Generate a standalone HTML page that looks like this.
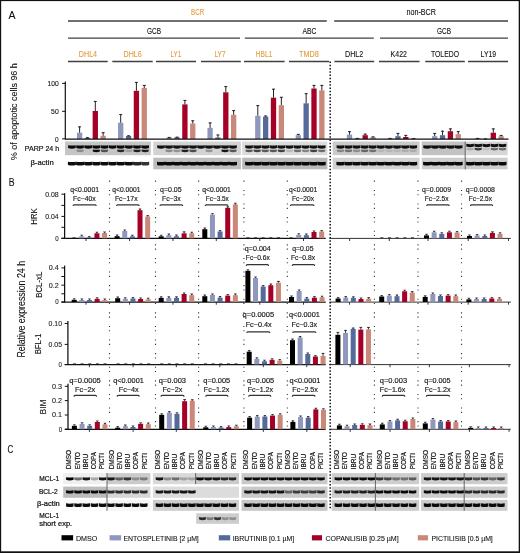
<!DOCTYPE html>
<html><head><meta charset="utf-8"><style>
html,body{margin:0;padding:0;background:#fff;overflow:hidden}
svg{display:block;will-change:transform}
text{font-family:"Liberation Sans",sans-serif}
</style></head><body>
<svg width="520" height="553" viewBox="0 0 520 553">
<defs><filter id="bl" x="-20%" y="-60%" width="140%" height="220%"><feGaussianBlur stdDeviation="0.55"/></filter></defs>
<rect x="0.00" y="0.00" width="520.00" height="553.00" fill="#fff"/>
<text x="8.40" y="18.60" font-size="10.8" text-anchor="start" fill="#111" stroke="#111" stroke-width="0.1" textLength="7.00" lengthAdjust="spacingAndGlyphs">A</text>
<text x="8.80" y="186.30" font-size="10.5" text-anchor="start" fill="#111" stroke="#111" stroke-width="0.1" textLength="5.80" lengthAdjust="spacingAndGlyphs">B</text>
<text x="7.40" y="453.00" font-size="10.5" text-anchor="start" fill="#111" stroke="#111" stroke-width="0.1" textLength="5.80" lengthAdjust="spacingAndGlyphs">C</text>
<text x="197.60" y="15.10" font-size="8.2" text-anchor="middle" fill="#E59C3C" stroke="#E59C3C" stroke-width="0.1" textLength="13.20" lengthAdjust="spacingAndGlyphs">BCR</text>
<text x="421.20" y="15.10" font-size="8.2" text-anchor="middle" fill="#111" stroke="#111" stroke-width="0.1" textLength="29.50" lengthAdjust="spacingAndGlyphs">non-BCR</text>
<line x1="68.00" y1="21.00" x2="326.80" y2="21.00" stroke="#404040" stroke-width="1.3"/>
<line x1="334.20" y1="21.00" x2="508.00" y2="21.00" stroke="#404040" stroke-width="1.3"/>
<text x="154.00" y="34.00" font-size="8.2" text-anchor="middle" fill="#111" stroke="#111" stroke-width="0.1" textLength="14.00" lengthAdjust="spacingAndGlyphs">GCB</text>
<text x="309.50" y="34.00" font-size="8.2" text-anchor="middle" fill="#111" stroke="#111" stroke-width="0.1" textLength="14.00" lengthAdjust="spacingAndGlyphs">ABC</text>
<text x="444.00" y="34.00" font-size="8.2" text-anchor="middle" fill="#111" stroke="#111" stroke-width="0.1" textLength="14.00" lengthAdjust="spacingAndGlyphs">GCB</text>
<line x1="68.00" y1="38.20" x2="240.00" y2="38.20" stroke="#404040" stroke-width="1.3"/>
<line x1="244.80" y1="38.20" x2="373.80" y2="38.20" stroke="#404040" stroke-width="1.3"/>
<line x1="380.00" y1="38.20" x2="508.00" y2="38.20" stroke="#404040" stroke-width="1.3"/>
<text x="78.80" y="57.30" font-size="8.2" text-anchor="start" fill="#E59C3C" stroke="#E59C3C" stroke-width="0.1" textLength="18.30" lengthAdjust="spacingAndGlyphs">DHL4</text>
<line x1="68.00" y1="61.50" x2="107.70" y2="61.50" stroke="#404040" stroke-width="1.3"/>
<text x="123.50" y="57.30" font-size="8.2" text-anchor="start" fill="#E59C3C" stroke="#E59C3C" stroke-width="0.1" textLength="18.20" lengthAdjust="spacingAndGlyphs">DHL6</text>
<line x1="112.30" y1="61.50" x2="152.70" y2="61.50" stroke="#404040" stroke-width="1.3"/>
<text x="170.60" y="57.30" font-size="8.2" text-anchor="start" fill="#E59C3C" stroke="#E59C3C" stroke-width="0.1" textLength="10.70" lengthAdjust="spacingAndGlyphs">LY1</text>
<line x1="156.00" y1="61.50" x2="196.00" y2="61.50" stroke="#404040" stroke-width="1.3"/>
<text x="214.40" y="57.30" font-size="8.2" text-anchor="start" fill="#E59C3C" stroke="#E59C3C" stroke-width="0.1" textLength="11.20" lengthAdjust="spacingAndGlyphs">LY7</text>
<line x1="201.00" y1="61.50" x2="240.80" y2="61.50" stroke="#404040" stroke-width="1.3"/>
<text x="255.80" y="57.30" font-size="8.2" text-anchor="start" fill="#E59C3C" stroke="#E59C3C" stroke-width="0.1" textLength="16.50" lengthAdjust="spacingAndGlyphs">HBL1</text>
<line x1="244.00" y1="61.50" x2="284.60" y2="61.50" stroke="#404040" stroke-width="1.3"/>
<text x="299.00" y="57.30" font-size="8.2" text-anchor="start" fill="#E59C3C" stroke="#E59C3C" stroke-width="0.1" textLength="19.80" lengthAdjust="spacingAndGlyphs">TMD8</text>
<line x1="289.00" y1="61.50" x2="329.00" y2="61.50" stroke="#404040" stroke-width="1.3"/>
<text x="345.00" y="57.30" font-size="8.2" text-anchor="start" fill="#111" stroke="#111" stroke-width="0.1" textLength="18.30" lengthAdjust="spacingAndGlyphs">DHL2</text>
<line x1="334.40" y1="61.50" x2="374.20" y2="61.50" stroke="#404040" stroke-width="1.3"/>
<text x="390.60" y="57.30" font-size="8.2" text-anchor="start" fill="#111" stroke="#111" stroke-width="0.1" textLength="16.40" lengthAdjust="spacingAndGlyphs">K422</text>
<line x1="379.00" y1="61.50" x2="419.50" y2="61.50" stroke="#404040" stroke-width="1.3"/>
<text x="431.00" y="57.30" font-size="8.2" text-anchor="start" fill="#111" stroke="#111" stroke-width="0.1" textLength="28.00" lengthAdjust="spacingAndGlyphs">TOLEDO</text>
<line x1="425.20" y1="61.50" x2="464.80" y2="61.50" stroke="#404040" stroke-width="1.3"/>
<text x="480.60" y="57.30" font-size="8.2" text-anchor="start" fill="#111" stroke="#111" stroke-width="0.1" textLength="15.40" lengthAdjust="spacingAndGlyphs">LY19</text>
<line x1="468.00" y1="61.50" x2="508.00" y2="61.50" stroke="#404040" stroke-width="1.3"/>
<rect x="76.95" y="132.70" width="5.30" height="6.30" fill="#8F97BD"/>
<line x1="79.60" y1="126.50" x2="79.60" y2="132.70" stroke="#222" stroke-width="1.0"/>
<line x1="78.10" y1="126.90" x2="81.10" y2="126.90" stroke="#222" stroke-width="1.0"/>
<rect x="84.80" y="138.00" width="5.30" height="1.00" fill="#55699B"/>
<line x1="87.45" y1="137.30" x2="87.45" y2="138.00" stroke="#222" stroke-width="1.0"/>
<line x1="85.95" y1="137.70" x2="88.95" y2="137.70" stroke="#222" stroke-width="1.0"/>
<rect x="92.65" y="111.00" width="5.30" height="28.00" fill="#A50026"/>
<line x1="95.30" y1="101.00" x2="95.30" y2="111.00" stroke="#222" stroke-width="1.0"/>
<line x1="93.80" y1="101.40" x2="96.80" y2="101.40" stroke="#222" stroke-width="1.0"/>
<rect x="100.50" y="135.80" width="5.30" height="3.20" fill="#CA887A"/>
<line x1="103.15" y1="132.30" x2="103.15" y2="135.80" stroke="#222" stroke-width="1.0"/>
<line x1="101.65" y1="132.70" x2="104.65" y2="132.70" stroke="#222" stroke-width="1.0"/>
<rect x="118.05" y="122.70" width="5.30" height="16.30" fill="#8F97BD"/>
<line x1="120.70" y1="114.20" x2="120.70" y2="122.70" stroke="#222" stroke-width="1.0"/>
<line x1="119.20" y1="114.60" x2="122.20" y2="114.60" stroke="#222" stroke-width="1.0"/>
<rect x="125.90" y="136.00" width="5.30" height="3.00" fill="#55699B"/>
<line x1="128.55" y1="135.40" x2="128.55" y2="136.00" stroke="#222" stroke-width="1.0"/>
<line x1="127.05" y1="135.80" x2="130.05" y2="135.80" stroke="#222" stroke-width="1.0"/>
<rect x="133.75" y="90.80" width="5.30" height="48.20" fill="#A50026"/>
<line x1="136.40" y1="82.00" x2="136.40" y2="90.80" stroke="#222" stroke-width="1.0"/>
<line x1="134.90" y1="82.40" x2="137.90" y2="82.40" stroke="#222" stroke-width="1.0"/>
<rect x="141.60" y="88.00" width="5.30" height="51.00" fill="#CA887A"/>
<line x1="144.25" y1="85.00" x2="144.25" y2="88.00" stroke="#222" stroke-width="1.0"/>
<line x1="142.75" y1="85.40" x2="145.75" y2="85.40" stroke="#222" stroke-width="1.0"/>
<rect x="166.55" y="137.60" width="5.30" height="1.40" fill="#8F97BD"/>
<line x1="169.20" y1="137.00" x2="169.20" y2="137.60" stroke="#222" stroke-width="1.0"/>
<line x1="167.70" y1="137.40" x2="170.70" y2="137.40" stroke="#222" stroke-width="1.0"/>
<rect x="174.40" y="137.40" width="5.30" height="1.60" fill="#55699B"/>
<line x1="177.05" y1="136.80" x2="177.05" y2="137.40" stroke="#222" stroke-width="1.0"/>
<line x1="175.55" y1="137.20" x2="178.55" y2="137.20" stroke="#222" stroke-width="1.0"/>
<rect x="182.25" y="104.40" width="5.30" height="34.60" fill="#A50026"/>
<line x1="184.90" y1="100.00" x2="184.90" y2="104.40" stroke="#222" stroke-width="1.0"/>
<line x1="183.40" y1="100.40" x2="186.40" y2="100.40" stroke="#222" stroke-width="1.0"/>
<rect x="190.10" y="123.50" width="5.30" height="15.50" fill="#CA887A"/>
<line x1="192.75" y1="120.40" x2="192.75" y2="123.50" stroke="#222" stroke-width="1.0"/>
<line x1="191.25" y1="120.80" x2="194.25" y2="120.80" stroke="#222" stroke-width="1.0"/>
<rect x="207.45" y="127.90" width="5.30" height="11.10" fill="#8F97BD"/>
<line x1="210.10" y1="122.50" x2="210.10" y2="127.90" stroke="#222" stroke-width="1.0"/>
<line x1="208.60" y1="122.90" x2="211.60" y2="122.90" stroke="#222" stroke-width="1.0"/>
<rect x="215.30" y="137.50" width="5.30" height="1.50" fill="#55699B"/>
<line x1="217.95" y1="134.60" x2="217.95" y2="137.50" stroke="#222" stroke-width="1.0"/>
<line x1="216.45" y1="135.00" x2="219.45" y2="135.00" stroke="#222" stroke-width="1.0"/>
<rect x="223.15" y="92.30" width="5.30" height="46.70" fill="#A50026"/>
<line x1="225.80" y1="86.20" x2="225.80" y2="92.30" stroke="#222" stroke-width="1.0"/>
<line x1="224.30" y1="86.60" x2="227.30" y2="86.60" stroke="#222" stroke-width="1.0"/>
<rect x="231.00" y="114.80" width="5.30" height="24.20" fill="#CA887A"/>
<line x1="233.65" y1="110.20" x2="233.65" y2="114.80" stroke="#222" stroke-width="1.0"/>
<line x1="232.15" y1="110.60" x2="235.15" y2="110.60" stroke="#222" stroke-width="1.0"/>
<rect x="255.15" y="115.80" width="5.30" height="23.20" fill="#8F97BD"/>
<line x1="257.80" y1="105.20" x2="257.80" y2="115.80" stroke="#222" stroke-width="1.0"/>
<line x1="256.30" y1="105.60" x2="259.30" y2="105.60" stroke="#222" stroke-width="1.0"/>
<rect x="263.00" y="116.70" width="5.30" height="22.30" fill="#55699B"/>
<line x1="265.65" y1="115.60" x2="265.65" y2="116.70" stroke="#222" stroke-width="1.0"/>
<line x1="264.15" y1="116.00" x2="267.15" y2="116.00" stroke="#222" stroke-width="1.0"/>
<rect x="270.85" y="97.70" width="5.30" height="41.30" fill="#A50026"/>
<line x1="273.50" y1="88.80" x2="273.50" y2="97.70" stroke="#222" stroke-width="1.0"/>
<line x1="272.00" y1="89.20" x2="275.00" y2="89.20" stroke="#222" stroke-width="1.0"/>
<rect x="278.70" y="105.20" width="5.30" height="33.80" fill="#CA887A"/>
<line x1="281.35" y1="96.90" x2="281.35" y2="105.20" stroke="#222" stroke-width="1.0"/>
<line x1="279.85" y1="97.30" x2="282.85" y2="97.30" stroke="#222" stroke-width="1.0"/>
<rect x="295.65" y="135.20" width="5.30" height="3.80" fill="#8F97BD"/>
<line x1="298.30" y1="134.00" x2="298.30" y2="135.20" stroke="#222" stroke-width="1.0"/>
<line x1="296.80" y1="134.40" x2="299.80" y2="134.40" stroke="#222" stroke-width="1.0"/>
<rect x="303.50" y="103.30" width="5.30" height="35.70" fill="#55699B"/>
<line x1="306.15" y1="93.30" x2="306.15" y2="103.30" stroke="#222" stroke-width="1.0"/>
<line x1="304.65" y1="93.70" x2="307.65" y2="93.70" stroke="#222" stroke-width="1.0"/>
<rect x="311.35" y="88.50" width="5.30" height="50.50" fill="#A50026"/>
<line x1="314.00" y1="85.00" x2="314.00" y2="88.50" stroke="#222" stroke-width="1.0"/>
<line x1="312.50" y1="85.40" x2="315.50" y2="85.40" stroke="#222" stroke-width="1.0"/>
<rect x="319.20" y="90.40" width="5.30" height="48.60" fill="#CA887A"/>
<line x1="321.85" y1="85.00" x2="321.85" y2="90.40" stroke="#222" stroke-width="1.0"/>
<line x1="320.35" y1="85.40" x2="323.35" y2="85.40" stroke="#222" stroke-width="1.0"/>
<rect x="346.85" y="134.60" width="5.30" height="4.40" fill="#8F97BD"/>
<line x1="349.50" y1="131.30" x2="349.50" y2="134.60" stroke="#222" stroke-width="1.0"/>
<line x1="348.00" y1="131.70" x2="351.00" y2="131.70" stroke="#222" stroke-width="1.0"/>
<rect x="354.70" y="138.60" width="5.30" height="0.40" fill="#55699B"/>
<line x1="357.35" y1="138.00" x2="357.35" y2="138.60" stroke="#222" stroke-width="1.0"/>
<line x1="355.85" y1="138.40" x2="358.85" y2="138.40" stroke="#222" stroke-width="1.0"/>
<rect x="362.55" y="135.20" width="5.30" height="3.80" fill="#A50026"/>
<line x1="365.20" y1="133.70" x2="365.20" y2="135.20" stroke="#222" stroke-width="1.0"/>
<line x1="363.70" y1="134.10" x2="366.70" y2="134.10" stroke="#222" stroke-width="1.0"/>
<rect x="370.40" y="137.20" width="5.30" height="1.80" fill="#CA887A"/>
<line x1="373.05" y1="136.50" x2="373.05" y2="137.20" stroke="#222" stroke-width="1.0"/>
<line x1="371.55" y1="136.90" x2="374.55" y2="136.90" stroke="#222" stroke-width="1.0"/>
<rect x="387.45" y="138.40" width="5.30" height="0.60" fill="#8F97BD"/>
<line x1="390.10" y1="138.00" x2="390.10" y2="138.40" stroke="#222" stroke-width="1.0"/>
<line x1="388.60" y1="138.40" x2="391.60" y2="138.40" stroke="#222" stroke-width="1.0"/>
<rect x="395.30" y="136.20" width="5.30" height="2.80" fill="#55699B"/>
<line x1="397.95" y1="133.00" x2="397.95" y2="136.20" stroke="#222" stroke-width="1.0"/>
<line x1="396.45" y1="133.40" x2="399.45" y2="133.40" stroke="#222" stroke-width="1.0"/>
<rect x="403.15" y="137.00" width="5.30" height="2.00" fill="#A50026"/>
<line x1="405.80" y1="135.00" x2="405.80" y2="137.00" stroke="#222" stroke-width="1.0"/>
<line x1="404.30" y1="135.40" x2="407.30" y2="135.40" stroke="#222" stroke-width="1.0"/>
<rect x="411.00" y="138.50" width="5.30" height="0.50" fill="#CA887A"/>
<line x1="413.65" y1="138.20" x2="413.65" y2="138.50" stroke="#222" stroke-width="1.0"/>
<line x1="412.15" y1="138.60" x2="415.15" y2="138.60" stroke="#222" stroke-width="1.0"/>
<rect x="432.05" y="136.20" width="5.30" height="2.80" fill="#8F97BD"/>
<line x1="434.70" y1="133.00" x2="434.70" y2="136.20" stroke="#222" stroke-width="1.0"/>
<line x1="433.20" y1="133.40" x2="436.20" y2="133.40" stroke="#222" stroke-width="1.0"/>
<rect x="439.90" y="135.20" width="5.30" height="3.80" fill="#55699B"/>
<line x1="442.55" y1="130.80" x2="442.55" y2="135.20" stroke="#222" stroke-width="1.0"/>
<line x1="441.05" y1="131.20" x2="444.05" y2="131.20" stroke="#222" stroke-width="1.0"/>
<rect x="447.75" y="131.20" width="5.30" height="7.80" fill="#A50026"/>
<line x1="450.40" y1="128.50" x2="450.40" y2="131.20" stroke="#222" stroke-width="1.0"/>
<line x1="448.90" y1="128.90" x2="451.90" y2="128.90" stroke="#222" stroke-width="1.0"/>
<rect x="455.60" y="134.20" width="5.30" height="4.80" fill="#CA887A"/>
<line x1="458.25" y1="131.20" x2="458.25" y2="134.20" stroke="#222" stroke-width="1.0"/>
<line x1="456.75" y1="131.60" x2="459.75" y2="131.60" stroke="#222" stroke-width="1.0"/>
<rect x="474.95" y="138.40" width="5.30" height="0.60" fill="#8F97BD"/>
<line x1="477.60" y1="138.00" x2="477.60" y2="138.40" stroke="#222" stroke-width="1.0"/>
<line x1="476.10" y1="138.40" x2="479.10" y2="138.40" stroke="#222" stroke-width="1.0"/>
<rect x="482.80" y="138.80" width="5.30" height="0.20" fill="#55699B"/>
<line x1="485.45" y1="138.60" x2="485.45" y2="138.80" stroke="#222" stroke-width="1.0"/>
<line x1="483.95" y1="139.00" x2="486.95" y2="139.00" stroke="#222" stroke-width="1.0"/>
<rect x="490.65" y="132.70" width="5.30" height="6.30" fill="#A50026"/>
<line x1="493.30" y1="128.50" x2="493.30" y2="132.70" stroke="#222" stroke-width="1.0"/>
<line x1="491.80" y1="128.90" x2="494.80" y2="128.90" stroke="#222" stroke-width="1.0"/>
<rect x="498.50" y="136.20" width="5.30" height="2.80" fill="#CA887A"/>
<line x1="501.15" y1="135.00" x2="501.15" y2="136.20" stroke="#222" stroke-width="1.0"/>
<line x1="499.65" y1="135.40" x2="502.65" y2="135.40" stroke="#222" stroke-width="1.0"/>
<line x1="65.30" y1="81.40" x2="65.30" y2="139.60" stroke="#111" stroke-width="1.2"/>
<line x1="62.10" y1="83.40" x2="65.30" y2="83.40" stroke="#111" stroke-width="1.0"/>
<text x="58.70" y="86.20" font-size="7.3" text-anchor="end" fill="#111" stroke="#111" stroke-width="0.1" textLength="11.20" lengthAdjust="spacingAndGlyphs">100</text>
<line x1="62.10" y1="111.30" x2="65.30" y2="111.30" stroke="#111" stroke-width="1.0"/>
<text x="58.70" y="114.10" font-size="7.3" text-anchor="end" fill="#111" stroke="#111" stroke-width="0.1" textLength="7.60" lengthAdjust="spacingAndGlyphs">50</text>
<line x1="62.10" y1="138.80" x2="65.30" y2="138.80" stroke="#111" stroke-width="1.0"/>
<text x="58.70" y="141.60" font-size="7.3" text-anchor="end" fill="#111" stroke="#111" stroke-width="0.1" textLength="3.60" lengthAdjust="spacingAndGlyphs">0</text>
<line x1="65.30" y1="139.10" x2="508.50" y2="139.10" stroke="#111" stroke-width="1.1"/>
<text x="17.10" y="111.70" font-size="9.7" text-anchor="middle" fill="#111" stroke="#111" stroke-width="0.1" textLength="97.00" lengthAdjust="spacingAndGlyphs" transform="rotate(-90 17.10 111.70)">% of apoptotic cells 96 h</text>
<text x="24.80" y="150.80" font-size="7.4" text-anchor="start" fill="#111" stroke="#111" stroke-width="0.2" textLength="34.40" lengthAdjust="spacingAndGlyphs">PARP  24 h</text>
<text x="30.40" y="165.40" font-size="7.4" text-anchor="start" fill="#111" stroke="#111" stroke-width="0.2" textLength="23.30" lengthAdjust="spacingAndGlyphs">β-actin</text>
<rect x="65.00" y="141.50" width="85.80" height="13.70" fill="#c5c5c5"/>
<path d="M68.10 145.20 Q71.90 146.00 75.70 145.20 L75.70 147.95 Q71.90 149.30 68.10 147.95 Z" fill="#050505" fill-opacity="0.95" filter="url(#bl)"/>
<path d="M67.90 161.65 Q71.90 162.45 75.90 161.65 L75.90 164.90 Q71.90 166.25 67.90 164.90 Z" fill="#050505" fill-opacity="0.95" filter="url(#bl)"/>
<path d="M76.24 145.20 Q80.04 146.00 83.84 145.20 L83.84 147.95 Q80.04 149.30 76.24 147.95 Z" fill="#050505" fill-opacity="0.95" filter="url(#bl)"/>
<path d="M76.54 149.45 Q80.04 150.25 83.54 149.45 L83.54 151.50 Q80.04 152.85 76.54 151.50 Z" fill="#050505" fill-opacity="0.30" filter="url(#bl)"/>
<path d="M76.04 161.65 Q80.04 162.45 84.04 161.65 L84.04 164.90 Q80.04 166.25 76.04 164.90 Z" fill="#050505" fill-opacity="0.95" filter="url(#bl)"/>
<path d="M84.38 145.20 Q88.18 146.00 91.98 145.20 L91.98 147.95 Q88.18 149.30 84.38 147.95 Z" fill="#050505" fill-opacity="0.95" filter="url(#bl)"/>
<path d="M84.18 161.65 Q88.18 162.45 92.18 161.65 L92.18 164.90 Q88.18 166.25 84.18 164.90 Z" fill="#050505" fill-opacity="0.95" filter="url(#bl)"/>
<path d="M92.52 145.20 Q96.32 146.00 100.12 145.20 L100.12 147.95 Q96.32 149.30 92.52 147.95 Z" fill="#050505" fill-opacity="0.95" filter="url(#bl)"/>
<path d="M92.82 149.45 Q96.32 150.25 99.82 149.45 L99.82 151.50 Q96.32 152.85 92.82 151.50 Z" fill="#050505" fill-opacity="0.95" filter="url(#bl)"/>
<path d="M92.32 161.65 Q96.32 162.45 100.32 161.65 L100.32 164.90 Q96.32 166.25 92.32 164.90 Z" fill="#050505" fill-opacity="0.95" filter="url(#bl)"/>
<path d="M100.66 145.20 Q104.46 146.00 108.26 145.20 L108.26 147.95 Q104.46 149.30 100.66 147.95 Z" fill="#050505" fill-opacity="0.95" filter="url(#bl)"/>
<path d="M100.96 149.45 Q104.46 150.25 107.96 149.45 L107.96 151.50 Q104.46 152.85 100.96 151.50 Z" fill="#050505" fill-opacity="0.60" filter="url(#bl)"/>
<path d="M100.46 161.65 Q104.46 162.45 108.46 161.65 L108.46 164.90 Q104.46 166.25 100.46 164.90 Z" fill="#050505" fill-opacity="0.95" filter="url(#bl)"/>
<path d="M108.80 145.20 Q112.60 146.00 116.40 145.20 L116.40 147.95 Q112.60 149.30 108.80 147.95 Z" fill="#050505" fill-opacity="0.95" filter="url(#bl)"/>
<path d="M108.60 161.65 Q112.60 162.45 116.60 161.65 L116.60 164.90 Q112.60 166.25 108.60 164.90 Z" fill="#050505" fill-opacity="0.95" filter="url(#bl)"/>
<path d="M116.94 145.20 Q120.74 146.00 124.54 145.20 L124.54 147.95 Q120.74 149.30 116.94 147.95 Z" fill="#050505" fill-opacity="0.95" filter="url(#bl)"/>
<path d="M117.24 149.45 Q120.74 150.25 124.24 149.45 L124.24 151.50 Q120.74 152.85 117.24 151.50 Z" fill="#050505" fill-opacity="0.80" filter="url(#bl)"/>
<path d="M116.74 161.65 Q120.74 162.45 124.74 161.65 L124.74 164.90 Q120.74 166.25 116.74 164.90 Z" fill="#050505" fill-opacity="0.95" filter="url(#bl)"/>
<path d="M125.08 145.20 Q128.88 146.00 132.68 145.20 L132.68 147.95 Q128.88 149.30 125.08 147.95 Z" fill="#050505" fill-opacity="0.95" filter="url(#bl)"/>
<path d="M125.38 149.45 Q128.88 150.25 132.38 149.45 L132.38 151.50 Q128.88 152.85 125.38 151.50 Z" fill="#050505" fill-opacity="0.20" filter="url(#bl)"/>
<path d="M124.88 161.65 Q128.88 162.45 132.88 161.65 L132.88 164.90 Q128.88 166.25 124.88 164.90 Z" fill="#050505" fill-opacity="0.95" filter="url(#bl)"/>
<path d="M133.22 145.20 Q137.02 146.00 140.82 145.20 L140.82 147.95 Q137.02 149.30 133.22 147.95 Z" fill="#050505" fill-opacity="0.95" filter="url(#bl)"/>
<path d="M133.52 149.45 Q137.02 150.25 140.52 149.45 L140.52 151.50 Q137.02 152.85 133.52 151.50 Z" fill="#050505" fill-opacity="0.85" filter="url(#bl)"/>
<path d="M133.02 161.65 Q137.02 162.45 141.02 161.65 L141.02 164.90 Q137.02 166.25 133.02 164.90 Z" fill="#050505" fill-opacity="0.85" filter="url(#bl)"/>
<path d="M141.36 145.20 Q145.16 146.00 148.96 145.20 L148.96 147.95 Q145.16 149.30 141.36 147.95 Z" fill="#050505" fill-opacity="0.95" filter="url(#bl)"/>
<path d="M141.66 149.45 Q145.16 150.25 148.66 149.45 L148.66 151.50 Q145.16 152.85 141.66 151.50 Z" fill="#050505" fill-opacity="0.85" filter="url(#bl)"/>
<path d="M141.16 161.65 Q145.16 162.45 149.16 161.65 L149.16 164.90 Q145.16 166.25 141.16 164.90 Z" fill="#050505" fill-opacity="0.80" filter="url(#bl)"/>
<rect x="153.30" y="141.50" width="87.60" height="13.70" fill="#d3d3d3"/>
<rect x="153.30" y="157.70" width="87.60" height="11.60" fill="#bdbdbd"/>
<path d="M157.20 145.20 Q161.00 146.00 164.80 145.20 L164.80 147.95 Q161.00 149.30 157.20 147.95 Z" fill="#050505" fill-opacity="0.92" filter="url(#bl)"/>
<path d="M157.00 161.65 Q161.00 162.45 165.00 161.65 L165.00 164.90 Q161.00 166.25 157.00 164.90 Z" fill="#050505" fill-opacity="0.95" filter="url(#bl)"/>
<path d="M165.20 145.20 Q169.00 146.00 172.80 145.20 L172.80 147.95 Q169.00 149.30 165.20 147.95 Z" fill="#050505" fill-opacity="0.92" filter="url(#bl)"/>
<path d="M165.50 149.45 Q169.00 150.25 172.50 149.45 L172.50 151.50 Q169.00 152.85 165.50 151.50 Z" fill="#050505" fill-opacity="0.35" filter="url(#bl)"/>
<path d="M165.00 161.65 Q169.00 162.45 173.00 161.65 L173.00 164.90 Q169.00 166.25 165.00 164.90 Z" fill="#050505" fill-opacity="0.95" filter="url(#bl)"/>
<path d="M173.20 145.20 Q177.00 146.00 180.80 145.20 L180.80 147.95 Q177.00 149.30 173.20 147.95 Z" fill="#050505" fill-opacity="0.92" filter="url(#bl)"/>
<path d="M173.50 149.45 Q177.00 150.25 180.50 149.45 L180.50 151.50 Q177.00 152.85 173.50 151.50 Z" fill="#050505" fill-opacity="0.30" filter="url(#bl)"/>
<path d="M173.00 161.65 Q177.00 162.45 181.00 161.65 L181.00 164.90 Q177.00 166.25 173.00 164.90 Z" fill="#050505" fill-opacity="0.95" filter="url(#bl)"/>
<path d="M181.20 145.20 Q185.00 146.00 188.80 145.20 L188.80 147.95 Q185.00 149.30 181.20 147.95 Z" fill="#050505" fill-opacity="0.92" filter="url(#bl)"/>
<path d="M181.50 149.45 Q185.00 150.25 188.50 149.45 L188.50 151.50 Q185.00 152.85 181.50 151.50 Z" fill="#050505" fill-opacity="0.85" filter="url(#bl)"/>
<path d="M181.00 161.65 Q185.00 162.45 189.00 161.65 L189.00 164.90 Q185.00 166.25 181.00 164.90 Z" fill="#050505" fill-opacity="0.95" filter="url(#bl)"/>
<path d="M189.20 145.20 Q193.00 146.00 196.80 145.20 L196.80 147.95 Q193.00 149.30 189.20 147.95 Z" fill="#050505" fill-opacity="0.92" filter="url(#bl)"/>
<path d="M189.50 149.45 Q193.00 150.25 196.50 149.45 L196.50 151.50 Q193.00 152.85 189.50 151.50 Z" fill="#050505" fill-opacity="0.65" filter="url(#bl)"/>
<path d="M189.00 161.65 Q193.00 162.45 197.00 161.65 L197.00 164.90 Q193.00 166.25 189.00 164.90 Z" fill="#050505" fill-opacity="0.95" filter="url(#bl)"/>
<path d="M197.20 145.20 Q201.00 146.00 204.80 145.20 L204.80 147.95 Q201.00 149.30 197.20 147.95 Z" fill="#050505" fill-opacity="0.92" filter="url(#bl)"/>
<path d="M197.00 161.65 Q201.00 162.45 205.00 161.65 L205.00 164.90 Q201.00 166.25 197.00 164.90 Z" fill="#050505" fill-opacity="0.95" filter="url(#bl)"/>
<path d="M205.20 145.20 Q209.00 146.00 212.80 145.20 L212.80 147.95 Q209.00 149.30 205.20 147.95 Z" fill="#050505" fill-opacity="0.92" filter="url(#bl)"/>
<path d="M205.50 149.45 Q209.00 150.25 212.50 149.45 L212.50 151.50 Q209.00 152.85 205.50 151.50 Z" fill="#050505" fill-opacity="0.30" filter="url(#bl)"/>
<path d="M205.00 161.65 Q209.00 162.45 213.00 161.65 L213.00 164.90 Q209.00 166.25 205.00 164.90 Z" fill="#050505" fill-opacity="0.95" filter="url(#bl)"/>
<path d="M213.20 145.20 Q217.00 146.00 220.80 145.20 L220.80 147.95 Q217.00 149.30 213.20 147.95 Z" fill="#050505" fill-opacity="0.92" filter="url(#bl)"/>
<path d="M213.00 161.65 Q217.00 162.45 221.00 161.65 L221.00 164.90 Q217.00 166.25 213.00 164.90 Z" fill="#050505" fill-opacity="0.95" filter="url(#bl)"/>
<path d="M221.20 145.20 Q225.00 146.00 228.80 145.20 L228.80 147.95 Q225.00 149.30 221.20 147.95 Z" fill="#050505" fill-opacity="0.92" filter="url(#bl)"/>
<path d="M221.50 149.45 Q225.00 150.25 228.50 149.45 L228.50 151.50 Q225.00 152.85 221.50 151.50 Z" fill="#050505" fill-opacity="0.90" filter="url(#bl)"/>
<path d="M221.00 161.65 Q225.00 162.45 229.00 161.65 L229.00 164.90 Q225.00 166.25 221.00 164.90 Z" fill="#050505" fill-opacity="0.95" filter="url(#bl)"/>
<path d="M229.20 145.20 Q233.00 146.00 236.80 145.20 L236.80 147.95 Q233.00 149.30 229.20 147.95 Z" fill="#050505" fill-opacity="0.92" filter="url(#bl)"/>
<path d="M229.50 149.45 Q233.00 150.25 236.50 149.45 L236.50 151.50 Q233.00 152.85 229.50 151.50 Z" fill="#050505" fill-opacity="0.60" filter="url(#bl)"/>
<path d="M229.00 161.65 Q233.00 162.45 237.00 161.65 L237.00 164.90 Q233.00 166.25 229.00 164.90 Z" fill="#050505" fill-opacity="0.95" filter="url(#bl)"/>
<rect x="242.20" y="141.50" width="85.20" height="13.70" fill="#dbdbdb"/>
<rect x="242.20" y="157.70" width="85.20" height="11.60" fill="#b9b9b9"/>
<path d="M245.30 145.20 Q249.10 146.00 252.90 145.20 L252.90 147.95 Q249.10 149.30 245.30 147.95 Z" fill="#050505" fill-opacity="0.92" filter="url(#bl)"/>
<path d="M245.60 149.45 Q249.10 150.25 252.60 149.45 L252.60 151.50 Q249.10 152.85 245.60 151.50 Z" fill="#050505" fill-opacity="0.60" filter="url(#bl)"/>
<path d="M245.10 161.65 Q249.10 162.45 253.10 161.65 L253.10 164.90 Q249.10 166.25 245.10 164.90 Z" fill="#050505" fill-opacity="0.95" filter="url(#bl)"/>
<path d="M253.37 145.20 Q257.17 146.00 260.97 145.20 L260.97 147.95 Q257.17 149.30 253.37 147.95 Z" fill="#050505" fill-opacity="0.92" filter="url(#bl)"/>
<path d="M253.67 149.45 Q257.17 150.25 260.67 149.45 L260.67 151.50 Q257.17 152.85 253.67 151.50 Z" fill="#050505" fill-opacity="0.70" filter="url(#bl)"/>
<path d="M253.17 161.65 Q257.17 162.45 261.17 161.65 L261.17 164.90 Q257.17 166.25 253.17 164.90 Z" fill="#050505" fill-opacity="0.95" filter="url(#bl)"/>
<path d="M261.44 145.20 Q265.24 146.00 269.04 145.20 L269.04 147.95 Q265.24 149.30 261.44 147.95 Z" fill="#050505" fill-opacity="0.92" filter="url(#bl)"/>
<path d="M261.74 149.45 Q265.24 150.25 268.74 149.45 L268.74 151.50 Q265.24 152.85 261.74 151.50 Z" fill="#050505" fill-opacity="0.60" filter="url(#bl)"/>
<path d="M261.24 161.65 Q265.24 162.45 269.24 161.65 L269.24 164.90 Q265.24 166.25 261.24 164.90 Z" fill="#050505" fill-opacity="0.95" filter="url(#bl)"/>
<path d="M269.51 145.20 Q273.31 146.00 277.11 145.20 L277.11 147.95 Q273.31 149.30 269.51 147.95 Z" fill="#050505" fill-opacity="0.92" filter="url(#bl)"/>
<path d="M269.81 149.45 Q273.31 150.25 276.81 149.45 L276.81 151.50 Q273.31 152.85 269.81 151.50 Z" fill="#050505" fill-opacity="0.60" filter="url(#bl)"/>
<path d="M269.31 161.65 Q273.31 162.45 277.31 161.65 L277.31 164.90 Q273.31 166.25 269.31 164.90 Z" fill="#050505" fill-opacity="0.95" filter="url(#bl)"/>
<path d="M277.58 145.20 Q281.38 146.00 285.18 145.20 L285.18 147.95 Q281.38 149.30 277.58 147.95 Z" fill="#050505" fill-opacity="0.92" filter="url(#bl)"/>
<path d="M277.88 149.45 Q281.38 150.25 284.88 149.45 L284.88 151.50 Q281.38 152.85 277.88 151.50 Z" fill="#050505" fill-opacity="0.70" filter="url(#bl)"/>
<path d="M277.38 161.65 Q281.38 162.45 285.38 161.65 L285.38 164.90 Q281.38 166.25 277.38 164.90 Z" fill="#050505" fill-opacity="0.95" filter="url(#bl)"/>
<path d="M285.65 145.20 Q289.45 146.00 293.25 145.20 L293.25 147.95 Q289.45 149.30 285.65 147.95 Z" fill="#050505" fill-opacity="0.92" filter="url(#bl)"/>
<path d="M285.95 149.45 Q289.45 150.25 292.95 149.45 L292.95 151.50 Q289.45 152.85 285.95 151.50 Z" fill="#050505" fill-opacity="0.15" filter="url(#bl)"/>
<path d="M285.45 161.65 Q289.45 162.45 293.45 161.65 L293.45 164.90 Q289.45 166.25 285.45 164.90 Z" fill="#050505" fill-opacity="0.95" filter="url(#bl)"/>
<path d="M293.72 145.20 Q297.52 146.00 301.32 145.20 L301.32 147.95 Q297.52 149.30 293.72 147.95 Z" fill="#050505" fill-opacity="0.92" filter="url(#bl)"/>
<path d="M294.02 149.45 Q297.52 150.25 301.02 149.45 L301.02 151.50 Q297.52 152.85 294.02 151.50 Z" fill="#050505" fill-opacity="0.50" filter="url(#bl)"/>
<path d="M293.52 161.65 Q297.52 162.45 301.52 161.65 L301.52 164.90 Q297.52 166.25 293.52 164.90 Z" fill="#050505" fill-opacity="0.95" filter="url(#bl)"/>
<path d="M301.79 145.20 Q305.59 146.00 309.39 145.20 L309.39 147.95 Q305.59 149.30 301.79 147.95 Z" fill="#050505" fill-opacity="0.92" filter="url(#bl)"/>
<path d="M302.09 149.45 Q305.59 150.25 309.09 149.45 L309.09 151.50 Q305.59 152.85 302.09 151.50 Z" fill="#050505" fill-opacity="0.40" filter="url(#bl)"/>
<path d="M301.59 161.65 Q305.59 162.45 309.59 161.65 L309.59 164.90 Q305.59 166.25 301.59 164.90 Z" fill="#050505" fill-opacity="0.95" filter="url(#bl)"/>
<path d="M309.86 145.20 Q313.66 146.00 317.46 145.20 L317.46 147.95 Q313.66 149.30 309.86 147.95 Z" fill="#050505" fill-opacity="0.92" filter="url(#bl)"/>
<path d="M310.16 149.45 Q313.66 150.25 317.16 149.45 L317.16 151.50 Q313.66 152.85 310.16 151.50 Z" fill="#050505" fill-opacity="0.70" filter="url(#bl)"/>
<path d="M309.66 161.65 Q313.66 162.45 317.66 161.65 L317.66 164.90 Q313.66 166.25 309.66 164.90 Z" fill="#050505" fill-opacity="0.95" filter="url(#bl)"/>
<path d="M317.93 145.20 Q321.73 146.00 325.53 145.20 L325.53 147.95 Q321.73 149.30 317.93 147.95 Z" fill="#050505" fill-opacity="0.92" filter="url(#bl)"/>
<path d="M318.23 149.45 Q321.73 150.25 325.23 149.45 L325.23 151.50 Q321.73 152.85 318.23 151.50 Z" fill="#050505" fill-opacity="0.50" filter="url(#bl)"/>
<path d="M317.73 161.65 Q321.73 162.45 325.73 161.65 L325.73 164.90 Q321.73 166.25 317.73 164.90 Z" fill="#050505" fill-opacity="0.95" filter="url(#bl)"/>
<rect x="332.70" y="141.50" width="86.90" height="13.70" fill="#cacaca"/>
<rect x="332.70" y="157.70" width="86.90" height="11.60" fill="#d2d2d2"/>
<path d="M336.60 145.20 Q340.40 146.00 344.20 145.20 L344.20 147.95 Q340.40 149.30 336.60 147.95 Z" fill="#050505" fill-opacity="0.92" filter="url(#bl)"/>
<path d="M336.90 149.45 Q340.40 150.25 343.90 149.45 L343.90 151.50 Q340.40 152.85 336.90 151.50 Z" fill="#050505" fill-opacity="0.35" filter="url(#bl)"/>
<path d="M336.40 161.65 Q340.40 162.45 344.40 161.65 L344.40 164.90 Q340.40 166.25 336.40 164.90 Z" fill="#050505" fill-opacity="0.95" filter="url(#bl)"/>
<path d="M344.69 145.20 Q348.49 146.00 352.29 145.20 L352.29 147.95 Q348.49 149.30 344.69 147.95 Z" fill="#050505" fill-opacity="0.92" filter="url(#bl)"/>
<path d="M344.99 149.45 Q348.49 150.25 351.99 149.45 L351.99 151.50 Q348.49 152.85 344.99 151.50 Z" fill="#050505" fill-opacity="0.45" filter="url(#bl)"/>
<path d="M344.49 161.65 Q348.49 162.45 352.49 161.65 L352.49 164.90 Q348.49 166.25 344.49 164.90 Z" fill="#050505" fill-opacity="0.95" filter="url(#bl)"/>
<path d="M352.78 145.20 Q356.58 146.00 360.38 145.20 L360.38 147.95 Q356.58 149.30 352.78 147.95 Z" fill="#050505" fill-opacity="0.92" filter="url(#bl)"/>
<path d="M353.08 149.45 Q356.58 150.25 360.08 149.45 L360.08 151.50 Q356.58 152.85 353.08 151.50 Z" fill="#050505" fill-opacity="0.30" filter="url(#bl)"/>
<path d="M352.58 161.65 Q356.58 162.45 360.58 161.65 L360.58 164.90 Q356.58 166.25 352.58 164.90 Z" fill="#050505" fill-opacity="0.95" filter="url(#bl)"/>
<path d="M360.87 145.20 Q364.67 146.00 368.47 145.20 L368.47 147.95 Q364.67 149.30 360.87 147.95 Z" fill="#050505" fill-opacity="0.92" filter="url(#bl)"/>
<path d="M361.17 149.45 Q364.67 150.25 368.17 149.45 L368.17 151.50 Q364.67 152.85 361.17 151.50 Z" fill="#050505" fill-opacity="0.50" filter="url(#bl)"/>
<path d="M360.67 161.65 Q364.67 162.45 368.67 161.65 L368.67 164.90 Q364.67 166.25 360.67 164.90 Z" fill="#050505" fill-opacity="0.95" filter="url(#bl)"/>
<path d="M368.96 145.20 Q372.76 146.00 376.56 145.20 L376.56 147.95 Q372.76 149.30 368.96 147.95 Z" fill="#050505" fill-opacity="0.92" filter="url(#bl)"/>
<path d="M369.26 149.45 Q372.76 150.25 376.26 149.45 L376.26 151.50 Q372.76 152.85 369.26 151.50 Z" fill="#050505" fill-opacity="0.45" filter="url(#bl)"/>
<path d="M368.76 161.65 Q372.76 162.45 376.76 161.65 L376.76 164.90 Q372.76 166.25 368.76 164.90 Z" fill="#050505" fill-opacity="0.95" filter="url(#bl)"/>
<path d="M377.05 145.20 Q380.85 146.00 384.65 145.20 L384.65 147.95 Q380.85 149.30 377.05 147.95 Z" fill="#050505" fill-opacity="0.92" filter="url(#bl)"/>
<path d="M377.35 149.45 Q380.85 150.25 384.35 149.45 L384.35 151.50 Q380.85 152.85 377.35 151.50 Z" fill="#050505" fill-opacity="0.10" filter="url(#bl)"/>
<path d="M376.85 161.65 Q380.85 162.45 384.85 161.65 L384.85 164.90 Q380.85 166.25 376.85 164.90 Z" fill="#050505" fill-opacity="0.95" filter="url(#bl)"/>
<path d="M385.14 145.20 Q388.94 146.00 392.74 145.20 L392.74 147.95 Q388.94 149.30 385.14 147.95 Z" fill="#050505" fill-opacity="0.92" filter="url(#bl)"/>
<path d="M385.44 149.45 Q388.94 150.25 392.44 149.45 L392.44 151.50 Q388.94 152.85 385.44 151.50 Z" fill="#050505" fill-opacity="0.10" filter="url(#bl)"/>
<path d="M384.94 161.65 Q388.94 162.45 392.94 161.65 L392.94 164.90 Q388.94 166.25 384.94 164.90 Z" fill="#050505" fill-opacity="0.95" filter="url(#bl)"/>
<path d="M393.23 145.20 Q397.03 146.00 400.83 145.20 L400.83 147.95 Q397.03 149.30 393.23 147.95 Z" fill="#050505" fill-opacity="0.92" filter="url(#bl)"/>
<path d="M393.53 149.45 Q397.03 150.25 400.53 149.45 L400.53 151.50 Q397.03 152.85 393.53 151.50 Z" fill="#050505" fill-opacity="0.10" filter="url(#bl)"/>
<path d="M393.03 161.65 Q397.03 162.45 401.03 161.65 L401.03 164.90 Q397.03 166.25 393.03 164.90 Z" fill="#050505" fill-opacity="0.95" filter="url(#bl)"/>
<path d="M401.32 145.20 Q405.12 146.00 408.92 145.20 L408.92 147.95 Q405.12 149.30 401.32 147.95 Z" fill="#050505" fill-opacity="0.92" filter="url(#bl)"/>
<path d="M401.62 149.45 Q405.12 150.25 408.62 149.45 L408.62 151.50 Q405.12 152.85 401.62 151.50 Z" fill="#050505" fill-opacity="0.15" filter="url(#bl)"/>
<path d="M401.12 161.65 Q405.12 162.45 409.12 161.65 L409.12 164.90 Q405.12 166.25 401.12 164.90 Z" fill="#050505" fill-opacity="0.95" filter="url(#bl)"/>
<path d="M409.41 145.20 Q413.21 146.00 417.01 145.20 L417.01 147.95 Q413.21 149.30 409.41 147.95 Z" fill="#050505" fill-opacity="0.92" filter="url(#bl)"/>
<path d="M409.71 149.45 Q413.21 150.25 416.71 149.45 L416.71 151.50 Q413.21 152.85 409.71 151.50 Z" fill="#050505" fill-opacity="0.15" filter="url(#bl)"/>
<path d="M409.21 161.65 Q413.21 162.45 417.21 161.65 L417.21 164.90 Q413.21 166.25 409.21 164.90 Z" fill="#050505" fill-opacity="0.95" filter="url(#bl)"/>
<rect x="421.70" y="141.50" width="43.80" height="13.70" fill="#c2c2c2"/>
<rect x="465.50" y="141.50" width="42.10" height="13.70" fill="#d5d5d5"/>
<rect x="421.70" y="157.70" width="85.90" height="11.60" fill="#cdcdcd"/>
<path d="M423.30 145.20 Q427.10 146.00 430.90 145.20 L430.90 147.95 Q427.10 149.30 423.30 147.95 Z" fill="#050505" fill-opacity="0.92" filter="url(#bl)"/>
<path d="M423.10 161.65 Q427.10 162.45 431.10 161.65 L431.10 164.90 Q427.10 166.25 423.10 164.90 Z" fill="#050505" fill-opacity="0.95" filter="url(#bl)"/>
<path d="M431.20 145.20 Q435.00 146.00 438.80 145.20 L438.80 147.95 Q435.00 149.30 431.20 147.95 Z" fill="#050505" fill-opacity="0.92" filter="url(#bl)"/>
<path d="M431.00 161.65 Q435.00 162.45 439.00 161.65 L439.00 164.90 Q435.00 166.25 431.00 164.90 Z" fill="#050505" fill-opacity="0.95" filter="url(#bl)"/>
<path d="M439.10 145.20 Q442.90 146.00 446.70 145.20 L446.70 147.95 Q442.90 149.30 439.10 147.95 Z" fill="#050505" fill-opacity="0.92" filter="url(#bl)"/>
<path d="M438.90 161.65 Q442.90 162.45 446.90 161.65 L446.90 164.90 Q442.90 166.25 438.90 164.90 Z" fill="#050505" fill-opacity="0.95" filter="url(#bl)"/>
<path d="M447.00 145.20 Q450.80 146.00 454.60 145.20 L454.60 147.95 Q450.80 149.30 447.00 147.95 Z" fill="#050505" fill-opacity="0.92" filter="url(#bl)"/>
<path d="M446.80 161.65 Q450.80 162.45 454.80 161.65 L454.80 164.90 Q450.80 166.25 446.80 164.90 Z" fill="#050505" fill-opacity="0.95" filter="url(#bl)"/>
<path d="M454.90 145.20 Q458.70 146.00 462.50 145.20 L462.50 147.95 Q458.70 149.30 454.90 147.95 Z" fill="#050505" fill-opacity="0.92" filter="url(#bl)"/>
<path d="M454.70 161.65 Q458.70 162.45 462.70 161.65 L462.70 164.90 Q458.70 166.25 454.70 164.90 Z" fill="#050505" fill-opacity="0.95" filter="url(#bl)"/>
<path d="M466.30 143.80 Q470.10 144.60 473.90 143.80 L473.90 146.55 Q470.10 147.90 466.30 146.55 Z" fill="#050505" fill-opacity="0.92" filter="url(#bl)"/>
<path d="M466.60 147.75 Q470.10 148.55 473.60 147.75 L473.60 149.80 Q470.10 151.15 466.60 149.80 Z" fill="#050505" fill-opacity="0.20" filter="url(#bl)"/>
<path d="M466.10 161.65 Q470.10 162.45 474.10 161.65 L474.10 164.90 Q470.10 166.25 466.10 164.90 Z" fill="#050505" fill-opacity="0.95" filter="url(#bl)"/>
<path d="M474.40 143.80 Q478.20 144.60 482.00 143.80 L482.00 146.55 Q478.20 147.90 474.40 146.55 Z" fill="#050505" fill-opacity="0.92" filter="url(#bl)"/>
<path d="M474.70 147.75 Q478.20 148.55 481.70 147.75 L481.70 149.80 Q478.20 151.15 474.70 149.80 Z" fill="#050505" fill-opacity="0.75" filter="url(#bl)"/>
<path d="M474.20 161.65 Q478.20 162.45 482.20 161.65 L482.20 164.90 Q478.20 166.25 474.20 164.90 Z" fill="#050505" fill-opacity="0.95" filter="url(#bl)"/>
<path d="M482.50 143.80 Q486.30 144.60 490.10 143.80 L490.10 146.55 Q486.30 147.90 482.50 146.55 Z" fill="#050505" fill-opacity="0.92" filter="url(#bl)"/>
<path d="M482.80 147.75 Q486.30 148.55 489.80 147.75 L489.80 149.80 Q486.30 151.15 482.80 149.80 Z" fill="#050505" fill-opacity="0.10" filter="url(#bl)"/>
<path d="M482.30 161.65 Q486.30 162.45 490.30 161.65 L490.30 164.90 Q486.30 166.25 482.30 164.90 Z" fill="#050505" fill-opacity="0.95" filter="url(#bl)"/>
<path d="M490.60 143.80 Q494.40 144.60 498.20 143.80 L498.20 146.55 Q494.40 147.90 490.60 146.55 Z" fill="#050505" fill-opacity="0.92" filter="url(#bl)"/>
<path d="M490.90 147.75 Q494.40 148.55 497.90 147.75 L497.90 149.80 Q494.40 151.15 490.90 149.80 Z" fill="#050505" fill-opacity="0.50" filter="url(#bl)"/>
<path d="M490.40 161.65 Q494.40 162.45 498.40 161.65 L498.40 164.90 Q494.40 166.25 490.40 164.90 Z" fill="#050505" fill-opacity="0.95" filter="url(#bl)"/>
<path d="M498.70 143.80 Q502.50 144.60 506.30 143.80 L506.30 146.55 Q502.50 147.90 498.70 146.55 Z" fill="#050505" fill-opacity="0.92" filter="url(#bl)"/>
<path d="M499.00 147.75 Q502.50 148.55 506.00 147.75 L506.00 149.80 Q502.50 151.15 499.00 149.80 Z" fill="#050505" fill-opacity="0.50" filter="url(#bl)"/>
<path d="M498.50 161.65 Q502.50 162.45 506.50 161.65 L506.50 164.90 Q502.50 166.25 498.50 164.90 Z" fill="#050505" fill-opacity="0.95" filter="url(#bl)"/>
<line x1="465.20" y1="141.50" x2="465.20" y2="169.30" stroke="#555" stroke-width="0.9"/>
<line x1="109.50" y1="180.60" x2="109.50" y2="432.00" stroke="#333" stroke-width="1.1" stroke-dasharray="1.1 8.2 1.1 3.2"/>
<line x1="155.50" y1="180.60" x2="155.50" y2="432.00" stroke="#333" stroke-width="1.1" stroke-dasharray="1.1 8.2 1.1 3.2"/>
<line x1="198.60" y1="180.60" x2="198.60" y2="432.00" stroke="#333" stroke-width="1.1" stroke-dasharray="1.1 8.2 1.1 3.2"/>
<line x1="243.90" y1="180.60" x2="243.90" y2="432.00" stroke="#333" stroke-width="1.1" stroke-dasharray="1.1 8.2 1.1 3.2"/>
<line x1="287.30" y1="180.60" x2="287.30" y2="432.00" stroke="#333" stroke-width="1.1" stroke-dasharray="1.1 8.2 1.1 3.2"/>
<line x1="374.40" y1="180.60" x2="374.40" y2="432.00" stroke="#333" stroke-width="1.1" stroke-dasharray="1.1 8.2 1.1 3.2"/>
<line x1="418.00" y1="180.60" x2="418.00" y2="432.00" stroke="#333" stroke-width="1.1" stroke-dasharray="1.1 8.2 1.1 3.2"/>
<line x1="461.50" y1="180.60" x2="461.50" y2="432.00" stroke="#333" stroke-width="1.1" stroke-dasharray="1.1 8.2 1.1 3.2"/>
<line x1="64.60" y1="193.20" x2="64.60" y2="238.80" stroke="#111" stroke-width="1.25"/>
<line x1="61.40" y1="194.20" x2="64.60" y2="194.20" stroke="#111" stroke-width="1.0"/>
<line x1="61.40" y1="205.40" x2="64.60" y2="205.40" stroke="#111" stroke-width="1.0"/>
<line x1="61.40" y1="216.40" x2="64.60" y2="216.40" stroke="#111" stroke-width="1.0"/>
<line x1="61.40" y1="227.30" x2="64.60" y2="227.30" stroke="#111" stroke-width="1.0"/>
<line x1="61.40" y1="238.30" x2="64.60" y2="238.30" stroke="#111" stroke-width="1.0"/>
<text x="58.70" y="196.50" font-size="6.8" text-anchor="end" fill="#222" stroke="#222" stroke-width="0.1" textLength="13.50" lengthAdjust="spacingAndGlyphs">0.08</text>
<text x="58.70" y="218.70" font-size="6.8" text-anchor="end" fill="#222" stroke="#222" stroke-width="0.1" textLength="13.50" lengthAdjust="spacingAndGlyphs">0.04</text>
<text x="58.70" y="240.60" font-size="6.8" text-anchor="end" fill="#222" stroke="#222" stroke-width="0.1" textLength="3.40" lengthAdjust="spacingAndGlyphs">0</text>
<line x1="61.40" y1="238.40" x2="325.70" y2="238.40" stroke="#111" stroke-width="1.15"/>
<line x1="329.40" y1="238.40" x2="510.80" y2="238.40" stroke="#333" stroke-width="1.0"/>
<line x1="86.00" y1="238.40" x2="86.00" y2="241.00" stroke="#222" stroke-width="0.9"/>
<line x1="129.60" y1="238.40" x2="129.60" y2="241.00" stroke="#222" stroke-width="0.9"/>
<line x1="173.00" y1="238.40" x2="173.00" y2="241.00" stroke="#222" stroke-width="0.9"/>
<line x1="216.30" y1="238.40" x2="216.30" y2="241.00" stroke="#222" stroke-width="0.9"/>
<line x1="259.80" y1="238.40" x2="259.80" y2="241.00" stroke="#222" stroke-width="0.9"/>
<line x1="303.50" y1="238.40" x2="303.50" y2="241.00" stroke="#222" stroke-width="0.9"/>
<line x1="349.60" y1="238.40" x2="349.60" y2="241.00" stroke="#222" stroke-width="0.9"/>
<line x1="389.30" y1="238.40" x2="389.30" y2="241.00" stroke="#222" stroke-width="0.9"/>
<line x1="428.00" y1="238.40" x2="428.00" y2="241.00" stroke="#222" stroke-width="0.9"/>
<line x1="468.20" y1="238.40" x2="468.20" y2="241.00" stroke="#222" stroke-width="0.9"/>
<line x1="508.50" y1="238.40" x2="508.50" y2="241.00" stroke="#222" stroke-width="0.9"/>
<rect x="72.50" y="237.20" width="3.00" height="1.1" fill="#222" fill-opacity="0.8"/>
<rect x="79.14" y="236.30" width="5.00" height="2.00" fill="#8F97BD"/>
<path d="M80.14 234.70 L83.14 234.70 L82.14 236.30 L81.14 236.30 Z" fill="#1a1a1a" fill-opacity="0.85"/>
<rect x="86.78" y="237.50" width="5.00" height="0.80" fill="#55699B"/>
<path d="M87.78 235.90 L90.78 235.90 L89.78 237.50 L88.78 237.50 Z" fill="#1a1a1a" fill-opacity="0.85"/>
<rect x="94.42" y="233.30" width="5.00" height="5.00" fill="#A50026"/>
<path d="M95.42 231.70 L98.42 231.70 L97.42 233.30 L96.42 233.30 Z" fill="#1a1a1a" fill-opacity="0.85"/>
<rect x="102.06" y="233.00" width="5.00" height="5.30" fill="#CA887A"/>
<path d="M103.06 231.40 L106.06 231.40 L105.06 233.00 L104.06 233.00 Z" fill="#1a1a1a" fill-opacity="0.85"/>
<rect x="114.60" y="236.20" width="5.00" height="2.10" fill="#000000"/>
<path d="M115.60 234.60 L118.60 234.60 L117.60 236.20 L116.60 236.20 Z" fill="#1a1a1a" fill-opacity="0.85"/>
<rect x="122.24" y="231.00" width="5.00" height="7.30" fill="#8F97BD"/>
<path d="M123.24 229.40 L126.24 229.40 L125.24 231.00 L124.24 231.00 Z" fill="#1a1a1a" fill-opacity="0.85"/>
<rect x="129.88" y="236.30" width="5.00" height="2.00" fill="#55699B"/>
<path d="M130.88 234.70 L133.88 234.70 L132.88 236.30 L131.88 236.30 Z" fill="#1a1a1a" fill-opacity="0.85"/>
<rect x="137.52" y="210.20" width="5.00" height="28.10" fill="#A50026"/>
<path d="M138.52 208.60 L141.52 208.60 L140.52 210.20 L139.52 210.20 Z" fill="#1a1a1a" fill-opacity="0.85"/>
<rect x="145.16" y="216.50" width="5.00" height="21.80" fill="#CA887A"/>
<path d="M146.16 214.90 L149.16 214.90 L148.16 216.50 L147.16 216.50 Z" fill="#1a1a1a" fill-opacity="0.85"/>
<rect x="158.70" y="236.30" width="5.00" height="2.00" fill="#000000"/>
<path d="M159.70 234.70 L162.70 234.70 L161.70 236.30 L160.70 236.30 Z" fill="#1a1a1a" fill-opacity="0.85"/>
<rect x="166.34" y="235.20" width="5.00" height="3.10" fill="#8F97BD"/>
<path d="M167.34 233.60 L170.34 233.60 L169.34 235.20 L168.34 235.20 Z" fill="#1a1a1a" fill-opacity="0.85"/>
<rect x="173.98" y="236.20" width="5.00" height="2.10" fill="#55699B"/>
<path d="M174.98 234.60 L177.98 234.60 L176.98 236.20 L175.98 236.20 Z" fill="#1a1a1a" fill-opacity="0.85"/>
<rect x="181.62" y="233.30" width="5.00" height="5.00" fill="#A50026"/>
<line x1="184.12" y1="231.50" x2="184.12" y2="233.30" stroke="#222" stroke-width="0.9"/>
<line x1="182.72" y1="231.90" x2="185.52" y2="231.90" stroke="#222" stroke-width="0.9"/>
<rect x="189.26" y="233.30" width="5.00" height="5.00" fill="#CA887A"/>
<path d="M190.26 231.70 L193.26 231.70 L192.26 233.30 L191.26 233.30 Z" fill="#1a1a1a" fill-opacity="0.85"/>
<rect x="202.30" y="229.20" width="5.00" height="9.10" fill="#000000"/>
<path d="M203.30 227.60 L206.30 227.60 L205.30 229.20 L204.30 229.20 Z" fill="#1a1a1a" fill-opacity="0.85"/>
<rect x="209.94" y="214.60" width="5.00" height="23.70" fill="#8F97BD"/>
<path d="M210.94 213.00 L213.94 213.00 L212.94 214.60 L211.94 214.60 Z" fill="#1a1a1a" fill-opacity="0.85"/>
<rect x="217.58" y="231.50" width="5.00" height="6.80" fill="#55699B"/>
<path d="M218.58 229.90 L221.58 229.90 L220.58 231.50 L219.58 231.50 Z" fill="#1a1a1a" fill-opacity="0.85"/>
<rect x="225.22" y="207.90" width="5.00" height="30.40" fill="#A50026"/>
<path d="M226.22 206.30 L229.22 206.30 L228.22 207.90 L227.22 207.90 Z" fill="#1a1a1a" fill-opacity="0.85"/>
<rect x="232.86" y="204.40" width="5.00" height="33.90" fill="#CA887A"/>
<path d="M233.86 202.80 L236.86 202.80 L235.86 204.40 L234.86 204.40 Z" fill="#1a1a1a" fill-opacity="0.85"/>
<rect x="246.40" y="237.20" width="3.00" height="1.1" fill="#222" fill-opacity="0.8"/>
<rect x="254.04" y="237.20" width="3.00" height="1.1" fill="#222" fill-opacity="0.8"/>
<rect x="261.68" y="237.20" width="3.00" height="1.1" fill="#222" fill-opacity="0.8"/>
<rect x="269.32" y="237.20" width="3.00" height="1.1" fill="#222" fill-opacity="0.8"/>
<rect x="276.96" y="237.20" width="3.00" height="1.1" fill="#222" fill-opacity="0.8"/>
<rect x="289.60" y="237.20" width="3.00" height="1.1" fill="#222" fill-opacity="0.8"/>
<rect x="296.24" y="234.80" width="5.00" height="3.50" fill="#8F97BD"/>
<path d="M297.24 233.20 L300.24 233.20 L299.24 234.80 L298.24 234.80 Z" fill="#1a1a1a" fill-opacity="0.85"/>
<rect x="303.88" y="235.20" width="5.00" height="3.10" fill="#55699B"/>
<path d="M304.88 233.60 L307.88 233.60 L306.88 235.20 L305.88 235.20 Z" fill="#1a1a1a" fill-opacity="0.85"/>
<rect x="311.52" y="232.00" width="5.00" height="6.30" fill="#A50026"/>
<path d="M312.52 230.40 L315.52 230.40 L314.52 232.00 L313.52 232.00 Z" fill="#1a1a1a" fill-opacity="0.85"/>
<rect x="319.16" y="231.50" width="5.00" height="6.80" fill="#CA887A"/>
<path d="M320.16 229.90 L323.16 229.90 L322.16 231.50 L321.16 231.50 Z" fill="#1a1a1a" fill-opacity="0.85"/>
<rect x="380.40" y="237.20" width="3.00" height="1.1" fill="#222" fill-opacity="0.8"/>
<rect x="388.04" y="237.20" width="3.00" height="1.1" fill="#222" fill-opacity="0.8"/>
<rect x="395.68" y="237.20" width="3.00" height="1.1" fill="#222" fill-opacity="0.8"/>
<rect x="403.32" y="237.20" width="3.00" height="1.1" fill="#222" fill-opacity="0.8"/>
<rect x="410.96" y="237.20" width="3.00" height="1.1" fill="#222" fill-opacity="0.8"/>
<rect x="424.00" y="235.40" width="5.00" height="2.90" fill="#000000"/>
<path d="M425.00 233.80 L428.00 233.80 L427.00 235.40 L426.00 235.40 Z" fill="#1a1a1a" fill-opacity="0.85"/>
<rect x="431.64" y="232.30" width="5.00" height="6.00" fill="#8F97BD"/>
<path d="M432.64 230.70 L435.64 230.70 L434.64 232.30 L433.64 232.30 Z" fill="#1a1a1a" fill-opacity="0.85"/>
<rect x="439.28" y="233.80" width="5.00" height="4.50" fill="#55699B"/>
<path d="M440.28 232.20 L443.28 232.20 L442.28 233.80 L441.28 233.80 Z" fill="#1a1a1a" fill-opacity="0.85"/>
<rect x="446.92" y="232.30" width="5.00" height="6.00" fill="#A50026"/>
<path d="M447.92 230.70 L450.92 230.70 L449.92 232.30 L448.92 232.30 Z" fill="#1a1a1a" fill-opacity="0.85"/>
<rect x="454.56" y="232.50" width="5.00" height="5.80" fill="#CA887A"/>
<path d="M455.56 230.90 L458.56 230.90 L457.56 232.50 L456.56 232.50 Z" fill="#1a1a1a" fill-opacity="0.85"/>
<rect x="467.00" y="236.00" width="5.00" height="2.30" fill="#000000"/>
<path d="M468.00 234.40 L471.00 234.40 L470.00 236.00 L469.00 236.00 Z" fill="#1a1a1a" fill-opacity="0.85"/>
<rect x="474.64" y="235.50" width="5.00" height="2.80" fill="#8F97BD"/>
<path d="M475.64 233.90 L478.64 233.90 L477.64 235.50 L476.64 235.50 Z" fill="#1a1a1a" fill-opacity="0.85"/>
<rect x="482.28" y="236.00" width="5.00" height="2.30" fill="#55699B"/>
<path d="M483.28 234.40 L486.28 234.40 L485.28 236.00 L484.28 236.00 Z" fill="#1a1a1a" fill-opacity="0.85"/>
<rect x="489.92" y="232.90" width="5.00" height="5.40" fill="#A50026"/>
<path d="M490.92 231.30 L493.92 231.30 L492.92 232.90 L491.92 232.90 Z" fill="#1a1a1a" fill-opacity="0.85"/>
<rect x="497.56" y="233.80" width="5.00" height="4.50" fill="#CA887A"/>
<path d="M498.56 232.20 L501.56 232.20 L500.56 233.80 L499.56 233.80 Z" fill="#1a1a1a" fill-opacity="0.85"/>
<text x="37.20" y="216.50" font-size="8.6" text-anchor="middle" fill="#111" stroke="#111" stroke-width="0.1" textLength="16.70" lengthAdjust="spacingAndGlyphs" transform="rotate(-90 37.20 216.50)">HRK</text>
<line x1="64.60" y1="265.60" x2="64.60" y2="302.50" stroke="#111" stroke-width="1.25"/>
<line x1="61.40" y1="267.90" x2="64.60" y2="267.90" stroke="#111" stroke-width="1.0"/>
<line x1="61.40" y1="276.50" x2="64.60" y2="276.50" stroke="#111" stroke-width="1.0"/>
<line x1="61.40" y1="285.20" x2="64.60" y2="285.20" stroke="#111" stroke-width="1.0"/>
<line x1="61.40" y1="293.80" x2="64.60" y2="293.80" stroke="#111" stroke-width="1.0"/>
<line x1="61.40" y1="302.00" x2="64.60" y2="302.00" stroke="#111" stroke-width="1.0"/>
<text x="58.70" y="270.20" font-size="6.8" text-anchor="end" fill="#222" stroke="#222" stroke-width="0.1" textLength="10.00" lengthAdjust="spacingAndGlyphs">0.4</text>
<text x="58.70" y="287.50" font-size="6.8" text-anchor="end" fill="#222" stroke="#222" stroke-width="0.1" textLength="10.00" lengthAdjust="spacingAndGlyphs">0.2</text>
<text x="58.70" y="304.30" font-size="6.8" text-anchor="end" fill="#222" stroke="#222" stroke-width="0.1" textLength="3.40" lengthAdjust="spacingAndGlyphs">0</text>
<line x1="61.40" y1="302.10" x2="325.70" y2="302.10" stroke="#111" stroke-width="1.15"/>
<line x1="329.40" y1="302.10" x2="510.80" y2="302.10" stroke="#333" stroke-width="1.0"/>
<line x1="86.00" y1="302.10" x2="86.00" y2="304.70" stroke="#222" stroke-width="0.9"/>
<line x1="129.60" y1="302.10" x2="129.60" y2="304.70" stroke="#222" stroke-width="0.9"/>
<line x1="173.00" y1="302.10" x2="173.00" y2="304.70" stroke="#222" stroke-width="0.9"/>
<line x1="216.30" y1="302.10" x2="216.30" y2="304.70" stroke="#222" stroke-width="0.9"/>
<line x1="259.80" y1="302.10" x2="259.80" y2="304.70" stroke="#222" stroke-width="0.9"/>
<line x1="303.50" y1="302.10" x2="303.50" y2="304.70" stroke="#222" stroke-width="0.9"/>
<line x1="349.60" y1="302.10" x2="349.60" y2="304.70" stroke="#222" stroke-width="0.9"/>
<line x1="389.30" y1="302.10" x2="389.30" y2="304.70" stroke="#222" stroke-width="0.9"/>
<line x1="428.00" y1="302.10" x2="428.00" y2="304.70" stroke="#222" stroke-width="0.9"/>
<line x1="468.20" y1="302.10" x2="468.20" y2="304.70" stroke="#222" stroke-width="0.9"/>
<line x1="508.50" y1="302.10" x2="508.50" y2="304.70" stroke="#222" stroke-width="0.9"/>
<rect x="71.70" y="299.80" width="5.00" height="2.20" fill="#000000"/>
<path d="M72.70 298.20 L75.70 298.20 L74.70 299.80 L73.70 299.80 Z" fill="#1a1a1a" fill-opacity="0.85"/>
<rect x="79.34" y="300.00" width="5.00" height="2.00" fill="#8F97BD"/>
<path d="M80.34 298.40 L83.34 298.40 L82.34 300.00 L81.34 300.00 Z" fill="#1a1a1a" fill-opacity="0.85"/>
<rect x="86.98" y="300.00" width="5.00" height="2.00" fill="#55699B"/>
<path d="M87.98 298.40 L90.98 298.40 L89.98 300.00 L88.98 300.00 Z" fill="#1a1a1a" fill-opacity="0.85"/>
<rect x="94.62" y="298.80" width="5.00" height="3.20" fill="#A50026"/>
<path d="M95.62 297.20 L98.62 297.20 L97.62 298.80 L96.62 298.80 Z" fill="#1a1a1a" fill-opacity="0.85"/>
<rect x="102.26" y="300.00" width="5.00" height="2.00" fill="#CA887A"/>
<path d="M103.26 298.40 L106.26 298.40 L105.26 300.00 L104.26 300.00 Z" fill="#1a1a1a" fill-opacity="0.85"/>
<rect x="115.20" y="298.20" width="5.00" height="3.80" fill="#000000"/>
<path d="M116.20 296.60 L119.20 296.60 L118.20 298.20 L117.20 298.20 Z" fill="#1a1a1a" fill-opacity="0.85"/>
<rect x="122.84" y="298.80" width="5.00" height="3.20" fill="#8F97BD"/>
<path d="M123.84 297.20 L126.84 297.20 L125.84 298.80 L124.84 298.80 Z" fill="#1a1a1a" fill-opacity="0.85"/>
<rect x="130.48" y="298.50" width="5.00" height="3.50" fill="#55699B"/>
<path d="M131.48 296.90 L134.48 296.90 L133.48 298.50 L132.48 298.50 Z" fill="#1a1a1a" fill-opacity="0.85"/>
<rect x="138.12" y="299.00" width="5.00" height="3.00" fill="#A50026"/>
<path d="M139.12 297.40 L142.12 297.40 L141.12 299.00 L140.12 299.00 Z" fill="#1a1a1a" fill-opacity="0.85"/>
<rect x="145.76" y="299.30" width="5.00" height="2.70" fill="#CA887A"/>
<path d="M146.76 297.70 L149.76 297.70 L148.76 299.30 L147.76 299.30 Z" fill="#1a1a1a" fill-opacity="0.85"/>
<rect x="158.70" y="297.90" width="5.00" height="4.10" fill="#000000"/>
<path d="M159.70 296.30 L162.70 296.30 L161.70 297.90 L160.70 297.90 Z" fill="#1a1a1a" fill-opacity="0.85"/>
<rect x="166.34" y="297.90" width="5.00" height="4.10" fill="#8F97BD"/>
<path d="M167.34 296.30 L170.34 296.30 L169.34 297.90 L168.34 297.90 Z" fill="#1a1a1a" fill-opacity="0.85"/>
<rect x="173.98" y="297.90" width="5.00" height="4.10" fill="#55699B"/>
<path d="M174.98 296.30 L177.98 296.30 L176.98 297.90 L175.98 297.90 Z" fill="#1a1a1a" fill-opacity="0.85"/>
<rect x="181.62" y="294.00" width="5.00" height="8.00" fill="#A50026"/>
<path d="M182.62 292.40 L185.62 292.40 L184.62 294.00 L183.62 294.00 Z" fill="#1a1a1a" fill-opacity="0.85"/>
<rect x="189.26" y="295.20" width="5.00" height="6.80" fill="#CA887A"/>
<path d="M190.26 293.60 L193.26 293.60 L192.26 295.20 L191.26 295.20 Z" fill="#1a1a1a" fill-opacity="0.85"/>
<rect x="202.30" y="296.20" width="5.00" height="5.80" fill="#000000"/>
<path d="M203.30 294.60 L206.30 294.60 L205.30 296.20 L204.30 296.20 Z" fill="#1a1a1a" fill-opacity="0.85"/>
<rect x="209.94" y="295.00" width="5.00" height="7.00" fill="#8F97BD"/>
<path d="M210.94 293.40 L213.94 293.40 L212.94 295.00 L211.94 295.00 Z" fill="#1a1a1a" fill-opacity="0.85"/>
<rect x="217.58" y="297.70" width="5.00" height="4.30" fill="#55699B"/>
<path d="M218.58 296.10 L221.58 296.10 L220.58 297.70 L219.58 297.70 Z" fill="#1a1a1a" fill-opacity="0.85"/>
<rect x="225.22" y="295.60" width="5.00" height="6.40" fill="#A50026"/>
<path d="M226.22 294.00 L229.22 294.00 L228.22 295.60 L227.22 295.60 Z" fill="#1a1a1a" fill-opacity="0.85"/>
<rect x="232.86" y="295.20" width="5.00" height="6.80" fill="#CA887A"/>
<path d="M233.86 293.60 L236.86 293.60 L235.86 295.20 L234.86 295.20 Z" fill="#1a1a1a" fill-opacity="0.85"/>
<rect x="245.40" y="270.80" width="5.00" height="31.20" fill="#000000"/>
<path d="M246.40 269.20 L249.40 269.20 L248.40 270.80 L247.40 270.80 Z" fill="#1a1a1a" fill-opacity="0.85"/>
<rect x="253.04" y="278.00" width="5.00" height="24.00" fill="#8F97BD"/>
<path d="M254.04 276.40 L257.04 276.40 L256.04 278.00 L255.04 278.00 Z" fill="#1a1a1a" fill-opacity="0.85"/>
<rect x="260.68" y="286.50" width="5.00" height="15.50" fill="#55699B"/>
<path d="M261.68 284.90 L264.68 284.90 L263.68 286.50 L262.68 286.50 Z" fill="#1a1a1a" fill-opacity="0.85"/>
<rect x="268.32" y="285.20" width="5.00" height="16.80" fill="#A50026"/>
<path d="M269.32 283.60 L272.32 283.60 L271.32 285.20 L270.32 285.20 Z" fill="#1a1a1a" fill-opacity="0.85"/>
<rect x="275.96" y="282.70" width="5.00" height="19.30" fill="#CA887A"/>
<line x1="278.46" y1="281.00" x2="278.46" y2="282.70" stroke="#222" stroke-width="0.9"/>
<line x1="277.06" y1="281.40" x2="279.86" y2="281.40" stroke="#222" stroke-width="0.9"/>
<rect x="289.00" y="297.00" width="5.00" height="5.00" fill="#000000"/>
<path d="M290.00 295.40 L293.00 295.40 L292.00 297.00 L291.00 297.00 Z" fill="#1a1a1a" fill-opacity="0.85"/>
<rect x="296.64" y="291.00" width="5.00" height="11.00" fill="#8F97BD"/>
<path d="M297.64 289.40 L300.64 289.40 L299.64 291.00 L298.64 291.00 Z" fill="#1a1a1a" fill-opacity="0.85"/>
<rect x="304.28" y="298.70" width="5.00" height="3.30" fill="#55699B"/>
<path d="M305.28 297.10 L308.28 297.10 L307.28 298.70 L306.28 298.70 Z" fill="#1a1a1a" fill-opacity="0.85"/>
<rect x="311.92" y="297.70" width="5.00" height="4.30" fill="#A50026"/>
<path d="M312.92 296.10 L315.92 296.10 L314.92 297.70 L313.92 297.70 Z" fill="#1a1a1a" fill-opacity="0.85"/>
<rect x="319.56" y="297.30" width="5.00" height="4.70" fill="#CA887A"/>
<path d="M320.56 295.70 L323.56 295.70 L322.56 297.30 L321.56 297.30 Z" fill="#1a1a1a" fill-opacity="0.85"/>
<rect x="335.60" y="298.50" width="5.00" height="3.50" fill="#000000"/>
<path d="M336.60 296.90 L339.60 296.90 L338.60 298.50 L337.60 298.50 Z" fill="#1a1a1a" fill-opacity="0.85"/>
<rect x="343.24" y="297.70" width="5.00" height="4.30" fill="#8F97BD"/>
<path d="M344.24 296.10 L347.24 296.10 L346.24 297.70 L345.24 297.70 Z" fill="#1a1a1a" fill-opacity="0.85"/>
<rect x="350.88" y="297.90" width="5.00" height="4.10" fill="#55699B"/>
<path d="M351.88 296.30 L354.88 296.30 L353.88 297.90 L352.88 297.90 Z" fill="#1a1a1a" fill-opacity="0.85"/>
<rect x="358.52" y="299.00" width="5.00" height="3.00" fill="#A50026"/>
<path d="M359.52 297.40 L362.52 297.40 L361.52 299.00 L360.52 299.00 Z" fill="#1a1a1a" fill-opacity="0.85"/>
<rect x="366.16" y="298.70" width="5.00" height="3.30" fill="#CA887A"/>
<path d="M367.16 297.10 L370.16 297.10 L369.16 298.70 L368.16 298.70 Z" fill="#1a1a1a" fill-opacity="0.85"/>
<rect x="379.20" y="296.50" width="5.00" height="5.50" fill="#000000"/>
<path d="M380.20 294.90 L383.20 294.90 L382.20 296.50 L381.20 296.50 Z" fill="#1a1a1a" fill-opacity="0.85"/>
<rect x="386.84" y="295.60" width="5.00" height="6.40" fill="#8F97BD"/>
<path d="M387.84 294.00 L390.84 294.00 L389.84 295.60 L388.84 295.60 Z" fill="#1a1a1a" fill-opacity="0.85"/>
<rect x="394.48" y="296.20" width="5.00" height="5.80" fill="#55699B"/>
<path d="M395.48 294.60 L398.48 294.60 L397.48 296.20 L396.48 296.20 Z" fill="#1a1a1a" fill-opacity="0.85"/>
<rect x="402.12" y="291.30" width="5.00" height="10.70" fill="#A50026"/>
<path d="M403.12 289.70 L406.12 289.70 L405.12 291.30 L404.12 291.30 Z" fill="#1a1a1a" fill-opacity="0.85"/>
<rect x="409.76" y="292.70" width="5.00" height="9.30" fill="#CA887A"/>
<path d="M410.76 291.10 L413.76 291.10 L412.76 292.70 L411.76 292.70 Z" fill="#1a1a1a" fill-opacity="0.85"/>
<rect x="422.70" y="296.90" width="5.00" height="5.10" fill="#000000"/>
<path d="M423.70 295.30 L426.70 295.30 L425.70 296.90 L424.70 296.90 Z" fill="#1a1a1a" fill-opacity="0.85"/>
<rect x="430.34" y="294.00" width="5.00" height="8.00" fill="#8F97BD"/>
<path d="M431.34 292.40 L434.34 292.40 L433.34 294.00 L432.34 294.00 Z" fill="#1a1a1a" fill-opacity="0.85"/>
<rect x="437.98" y="296.00" width="5.00" height="6.00" fill="#55699B"/>
<path d="M438.98 294.40 L441.98 294.40 L440.98 296.00 L439.98 296.00 Z" fill="#1a1a1a" fill-opacity="0.85"/>
<rect x="445.62" y="295.60" width="5.00" height="6.40" fill="#A50026"/>
<path d="M446.62 294.00 L449.62 294.00 L448.62 295.60 L447.62 295.60 Z" fill="#1a1a1a" fill-opacity="0.85"/>
<rect x="453.26" y="296.20" width="5.00" height="5.80" fill="#CA887A"/>
<path d="M454.26 294.60 L457.26 294.60 L456.26 296.20 L455.26 296.20 Z" fill="#1a1a1a" fill-opacity="0.85"/>
<rect x="466.40" y="299.40" width="5.00" height="2.60" fill="#000000"/>
<path d="M467.40 297.80 L470.40 297.80 L469.40 299.40 L468.40 299.40 Z" fill="#1a1a1a" fill-opacity="0.85"/>
<rect x="474.04" y="299.00" width="5.00" height="3.00" fill="#8F97BD"/>
<path d="M475.04 297.40 L478.04 297.40 L477.04 299.00 L476.04 299.00 Z" fill="#1a1a1a" fill-opacity="0.85"/>
<rect x="481.68" y="299.00" width="5.00" height="3.00" fill="#55699B"/>
<path d="M482.68 297.40 L485.68 297.40 L484.68 299.00 L483.68 299.00 Z" fill="#1a1a1a" fill-opacity="0.85"/>
<rect x="489.32" y="298.50" width="5.00" height="3.50" fill="#A50026"/>
<path d="M490.32 296.90 L493.32 296.90 L492.32 298.50 L491.32 298.50 Z" fill="#1a1a1a" fill-opacity="0.85"/>
<rect x="496.96" y="298.80" width="5.00" height="3.20" fill="#CA887A"/>
<path d="M497.96 297.20 L500.96 297.20 L499.96 298.80 L498.96 298.80 Z" fill="#1a1a1a" fill-opacity="0.85"/>
<text x="41.50" y="284.75" font-size="8.6" text-anchor="middle" fill="#111" stroke="#111" stroke-width="0.1" textLength="26.10" lengthAdjust="spacingAndGlyphs" transform="rotate(-90 41.50 284.75)">BCL-xL</text>
<line x1="67.90" y1="321.00" x2="67.90" y2="365.00" stroke="#111" stroke-width="1.25"/>
<line x1="64.70" y1="323.50" x2="67.90" y2="323.50" stroke="#111" stroke-width="1.0"/>
<line x1="64.70" y1="344.40" x2="67.90" y2="344.40" stroke="#111" stroke-width="1.0"/>
<line x1="64.70" y1="364.50" x2="67.90" y2="364.50" stroke="#111" stroke-width="1.0"/>
<text x="62.00" y="325.80" font-size="6.8" text-anchor="end" fill="#222" stroke="#222" stroke-width="0.1" textLength="13.40" lengthAdjust="spacingAndGlyphs">0.10</text>
<text x="62.00" y="346.70" font-size="6.8" text-anchor="end" fill="#222" stroke="#222" stroke-width="0.1" textLength="13.40" lengthAdjust="spacingAndGlyphs">0.05</text>
<text x="62.00" y="366.80" font-size="6.8" text-anchor="end" fill="#222" stroke="#222" stroke-width="0.1" textLength="3.40" lengthAdjust="spacingAndGlyphs">0</text>
<line x1="64.70" y1="364.60" x2="325.70" y2="364.60" stroke="#111" stroke-width="1.15"/>
<line x1="329.40" y1="364.60" x2="510.80" y2="364.60" stroke="#333" stroke-width="1.0"/>
<line x1="89.40" y1="364.60" x2="89.40" y2="367.20" stroke="#222" stroke-width="0.9"/>
<line x1="133.10" y1="364.60" x2="133.10" y2="367.20" stroke="#222" stroke-width="0.9"/>
<line x1="176.30" y1="364.60" x2="176.30" y2="367.20" stroke="#222" stroke-width="0.9"/>
<line x1="219.80" y1="364.60" x2="219.80" y2="367.20" stroke="#222" stroke-width="0.9"/>
<line x1="263.30" y1="364.60" x2="263.30" y2="367.20" stroke="#222" stroke-width="0.9"/>
<line x1="306.80" y1="364.60" x2="306.80" y2="367.20" stroke="#222" stroke-width="0.9"/>
<line x1="350.20" y1="364.60" x2="350.20" y2="367.20" stroke="#222" stroke-width="0.9"/>
<line x1="390.00" y1="364.60" x2="390.00" y2="367.20" stroke="#222" stroke-width="0.9"/>
<line x1="429.40" y1="364.60" x2="429.40" y2="367.20" stroke="#222" stroke-width="0.9"/>
<line x1="469.40" y1="364.60" x2="469.40" y2="367.20" stroke="#222" stroke-width="0.9"/>
<line x1="509.00" y1="364.60" x2="509.00" y2="367.20" stroke="#222" stroke-width="0.9"/>
<rect x="73.00" y="363.30" width="3.00" height="1.1" fill="#222" fill-opacity="0.8"/>
<rect x="80.64" y="363.30" width="3.00" height="1.1" fill="#222" fill-opacity="0.8"/>
<rect x="88.28" y="363.30" width="3.00" height="1.1" fill="#222" fill-opacity="0.8"/>
<rect x="95.92" y="363.30" width="3.00" height="1.1" fill="#222" fill-opacity="0.8"/>
<rect x="103.56" y="363.30" width="3.00" height="1.1" fill="#222" fill-opacity="0.8"/>
<rect x="116.60" y="363.30" width="3.00" height="1.1" fill="#222" fill-opacity="0.8"/>
<rect x="124.24" y="363.30" width="3.00" height="1.1" fill="#222" fill-opacity="0.8"/>
<rect x="131.88" y="363.30" width="3.00" height="1.1" fill="#222" fill-opacity="0.8"/>
<rect x="139.52" y="363.30" width="3.00" height="1.1" fill="#222" fill-opacity="0.8"/>
<rect x="147.16" y="363.30" width="3.00" height="1.1" fill="#222" fill-opacity="0.8"/>
<rect x="160.20" y="363.30" width="3.00" height="1.1" fill="#222" fill-opacity="0.8"/>
<rect x="167.84" y="363.30" width="3.00" height="1.1" fill="#222" fill-opacity="0.8"/>
<rect x="175.48" y="363.30" width="3.00" height="1.1" fill="#222" fill-opacity="0.8"/>
<rect x="183.12" y="363.30" width="3.00" height="1.1" fill="#222" fill-opacity="0.8"/>
<rect x="190.76" y="363.30" width="3.00" height="1.1" fill="#222" fill-opacity="0.8"/>
<rect x="204.00" y="363.30" width="3.00" height="1.1" fill="#222" fill-opacity="0.8"/>
<rect x="211.64" y="363.30" width="3.00" height="1.1" fill="#222" fill-opacity="0.8"/>
<rect x="219.28" y="363.30" width="3.00" height="1.1" fill="#222" fill-opacity="0.8"/>
<rect x="226.92" y="363.30" width="3.00" height="1.1" fill="#222" fill-opacity="0.8"/>
<rect x="234.56" y="363.30" width="3.00" height="1.1" fill="#222" fill-opacity="0.8"/>
<rect x="246.70" y="351.70" width="5.00" height="12.70" fill="#000000"/>
<path d="M247.70 350.10 L250.70 350.10 L249.70 351.70 L248.70 351.70 Z" fill="#1a1a1a" fill-opacity="0.85"/>
<rect x="254.34" y="358.80" width="5.00" height="5.60" fill="#8F97BD"/>
<path d="M255.34 357.20 L258.34 357.20 L257.34 358.80 L256.34 358.80 Z" fill="#1a1a1a" fill-opacity="0.85"/>
<rect x="261.98" y="361.30" width="5.00" height="3.10" fill="#55699B"/>
<path d="M262.98 359.70 L265.98 359.70 L264.98 361.30 L263.98 361.30 Z" fill="#1a1a1a" fill-opacity="0.85"/>
<rect x="269.62" y="359.80" width="5.00" height="4.60" fill="#A50026"/>
<path d="M270.62 358.20 L273.62 358.20 L272.62 359.80 L271.62 359.80 Z" fill="#1a1a1a" fill-opacity="0.85"/>
<rect x="277.26" y="360.60" width="5.00" height="3.80" fill="#CA887A"/>
<path d="M278.26 359.00 L281.26 359.00 L280.26 360.60 L279.26 360.60 Z" fill="#1a1a1a" fill-opacity="0.85"/>
<rect x="290.00" y="340.20" width="5.00" height="24.20" fill="#000000"/>
<path d="M291.00 338.60 L294.00 338.60 L293.00 340.20 L292.00 340.20 Z" fill="#1a1a1a" fill-opacity="0.85"/>
<rect x="297.64" y="337.70" width="5.00" height="26.70" fill="#8F97BD"/>
<path d="M298.64 336.10 L301.64 336.10 L300.64 337.70 L299.64 337.70 Z" fill="#1a1a1a" fill-opacity="0.85"/>
<rect x="305.28" y="354.00" width="5.00" height="10.40" fill="#55699B"/>
<path d="M306.28 352.40 L309.28 352.40 L308.28 354.00 L307.28 354.00 Z" fill="#1a1a1a" fill-opacity="0.85"/>
<rect x="312.92" y="356.50" width="5.00" height="7.90" fill="#A50026"/>
<path d="M313.92 354.90 L316.92 354.90 L315.92 356.50 L314.92 356.50 Z" fill="#1a1a1a" fill-opacity="0.85"/>
<rect x="320.56" y="356.00" width="5.00" height="8.40" fill="#CA887A"/>
<line x1="323.06" y1="353.00" x2="323.06" y2="356.00" stroke="#222" stroke-width="0.9"/>
<line x1="321.66" y1="353.40" x2="324.46" y2="353.40" stroke="#222" stroke-width="0.9"/>
<rect x="335.40" y="334.80" width="5.00" height="29.60" fill="#000000"/>
<line x1="337.90" y1="332.00" x2="337.90" y2="334.80" stroke="#222" stroke-width="0.9"/>
<line x1="336.50" y1="332.40" x2="339.30" y2="332.40" stroke="#222" stroke-width="0.9"/>
<rect x="343.04" y="332.90" width="5.00" height="31.50" fill="#8F97BD"/>
<line x1="345.54" y1="330.00" x2="345.54" y2="332.90" stroke="#222" stroke-width="0.9"/>
<line x1="344.14" y1="330.40" x2="346.94" y2="330.40" stroke="#222" stroke-width="0.9"/>
<rect x="350.68" y="329.00" width="5.00" height="35.40" fill="#55699B"/>
<line x1="353.18" y1="327.70" x2="353.18" y2="329.00" stroke="#222" stroke-width="0.9"/>
<line x1="351.78" y1="328.10" x2="354.58" y2="328.10" stroke="#222" stroke-width="0.9"/>
<rect x="358.32" y="329.60" width="5.00" height="34.80" fill="#A50026"/>
<line x1="360.82" y1="327.00" x2="360.82" y2="329.60" stroke="#222" stroke-width="0.9"/>
<line x1="359.42" y1="327.40" x2="362.22" y2="327.40" stroke="#222" stroke-width="0.9"/>
<rect x="365.96" y="329.40" width="5.00" height="35.00" fill="#CA887A"/>
<line x1="368.46" y1="327.00" x2="368.46" y2="329.40" stroke="#222" stroke-width="0.9"/>
<line x1="367.06" y1="327.40" x2="369.86" y2="327.40" stroke="#222" stroke-width="0.9"/>
<text x="41.50" y="343.80" font-size="8.6" text-anchor="middle" fill="#111" stroke="#111" stroke-width="0.1" textLength="20.20" lengthAdjust="spacingAndGlyphs" transform="rotate(-90 41.50 343.80)">BFL-1</text>
<line x1="68.00" y1="383.80" x2="68.00" y2="429.70" stroke="#111" stroke-width="1.25"/>
<line x1="64.80" y1="386.30" x2="68.00" y2="386.30" stroke="#111" stroke-width="1.0"/>
<line x1="64.80" y1="400.60" x2="68.00" y2="400.60" stroke="#111" stroke-width="1.0"/>
<line x1="64.80" y1="415.00" x2="68.00" y2="415.00" stroke="#111" stroke-width="1.0"/>
<line x1="64.80" y1="429.20" x2="68.00" y2="429.20" stroke="#111" stroke-width="1.0"/>
<text x="62.10" y="388.60" font-size="6.8" text-anchor="end" fill="#222" stroke="#222" stroke-width="0.1" textLength="10.00" lengthAdjust="spacingAndGlyphs">0.3</text>
<text x="62.10" y="402.90" font-size="6.8" text-anchor="end" fill="#222" stroke="#222" stroke-width="0.1" textLength="10.00" lengthAdjust="spacingAndGlyphs">0.2</text>
<text x="62.10" y="417.30" font-size="6.8" text-anchor="end" fill="#222" stroke="#222" stroke-width="0.1" textLength="10.00" lengthAdjust="spacingAndGlyphs">0.1</text>
<text x="62.10" y="431.50" font-size="6.8" text-anchor="end" fill="#222" stroke="#222" stroke-width="0.1" textLength="3.40" lengthAdjust="spacingAndGlyphs">0</text>
<line x1="64.80" y1="429.30" x2="325.70" y2="429.30" stroke="#111" stroke-width="1.15"/>
<line x1="329.40" y1="429.30" x2="510.80" y2="429.30" stroke="#333" stroke-width="1.0"/>
<line x1="89.40" y1="429.30" x2="89.40" y2="431.90" stroke="#222" stroke-width="0.9"/>
<line x1="133.10" y1="429.30" x2="133.10" y2="431.90" stroke="#222" stroke-width="0.9"/>
<line x1="176.30" y1="429.30" x2="176.30" y2="431.90" stroke="#222" stroke-width="0.9"/>
<line x1="219.80" y1="429.30" x2="219.80" y2="431.90" stroke="#222" stroke-width="0.9"/>
<line x1="263.30" y1="429.30" x2="263.30" y2="431.90" stroke="#222" stroke-width="0.9"/>
<line x1="306.80" y1="429.30" x2="306.80" y2="431.90" stroke="#222" stroke-width="0.9"/>
<line x1="350.20" y1="429.30" x2="350.20" y2="431.90" stroke="#222" stroke-width="0.9"/>
<line x1="390.00" y1="429.30" x2="390.00" y2="431.90" stroke="#222" stroke-width="0.9"/>
<line x1="429.40" y1="429.30" x2="429.40" y2="431.90" stroke="#222" stroke-width="0.9"/>
<line x1="469.40" y1="429.30" x2="469.40" y2="431.90" stroke="#222" stroke-width="0.9"/>
<line x1="509.00" y1="429.30" x2="509.00" y2="431.90" stroke="#222" stroke-width="0.9"/>
<rect x="71.90" y="425.80" width="5.00" height="3.40" fill="#000000"/>
<path d="M72.90 424.20 L75.90 424.20 L74.90 425.80 L73.90 425.80 Z" fill="#1a1a1a" fill-opacity="0.85"/>
<rect x="79.54" y="423.80" width="5.00" height="5.40" fill="#8F97BD"/>
<path d="M80.54 422.20 L83.54 422.20 L82.54 423.80 L81.54 423.80 Z" fill="#1a1a1a" fill-opacity="0.85"/>
<rect x="87.18" y="425.80" width="5.00" height="3.40" fill="#55699B"/>
<path d="M88.18 424.20 L91.18 424.20 L90.18 425.80 L89.18 425.80 Z" fill="#1a1a1a" fill-opacity="0.85"/>
<rect x="94.82" y="422.00" width="5.00" height="7.20" fill="#A50026"/>
<path d="M95.82 420.40 L98.82 420.40 L97.82 422.00 L96.82 422.00 Z" fill="#1a1a1a" fill-opacity="0.85"/>
<rect x="102.46" y="424.40" width="5.00" height="4.80" fill="#CA887A"/>
<path d="M103.46 422.80 L106.46 422.80 L105.46 424.40 L104.46 424.40 Z" fill="#1a1a1a" fill-opacity="0.85"/>
<rect x="115.20" y="427.70" width="5.00" height="1.50" fill="#000000"/>
<path d="M116.20 426.10 L119.20 426.10 L118.20 427.70 L117.20 427.70 Z" fill="#1a1a1a" fill-opacity="0.85"/>
<rect x="122.84" y="426.20" width="5.00" height="3.00" fill="#8F97BD"/>
<path d="M123.84 424.60 L126.84 424.60 L125.84 426.20 L124.84 426.20 Z" fill="#1a1a1a" fill-opacity="0.85"/>
<rect x="130.48" y="427.00" width="5.00" height="2.20" fill="#55699B"/>
<path d="M131.48 425.40 L134.48 425.40 L133.48 427.00 L132.48 427.00 Z" fill="#1a1a1a" fill-opacity="0.85"/>
<rect x="138.12" y="423.80" width="5.00" height="5.40" fill="#A50026"/>
<path d="M139.12 422.20 L142.12 422.20 L141.12 423.80 L140.12 423.80 Z" fill="#1a1a1a" fill-opacity="0.85"/>
<rect x="145.76" y="424.20" width="5.00" height="5.00" fill="#CA887A"/>
<path d="M146.76 422.60 L149.76 422.60 L148.76 424.20 L147.76 424.20 Z" fill="#1a1a1a" fill-opacity="0.85"/>
<rect x="159.20" y="414.80" width="5.00" height="14.40" fill="#000000"/>
<path d="M160.20 413.20 L163.20 413.20 L162.20 414.80 L161.20 414.80 Z" fill="#1a1a1a" fill-opacity="0.85"/>
<rect x="166.84" y="412.70" width="5.00" height="16.50" fill="#8F97BD"/>
<path d="M167.84 411.10 L170.84 411.10 L169.84 412.70 L168.84 412.70 Z" fill="#1a1a1a" fill-opacity="0.85"/>
<rect x="174.48" y="413.80" width="5.00" height="15.40" fill="#55699B"/>
<path d="M175.48 412.20 L178.48 412.20 L177.48 413.80 L176.48 413.80 Z" fill="#1a1a1a" fill-opacity="0.85"/>
<rect x="182.12" y="401.20" width="5.00" height="28.00" fill="#A50026"/>
<line x1="184.62" y1="399.20" x2="184.62" y2="401.20" stroke="#222" stroke-width="0.9"/>
<line x1="183.22" y1="399.60" x2="186.02" y2="399.60" stroke="#222" stroke-width="0.9"/>
<rect x="189.76" y="400.80" width="5.00" height="28.40" fill="#CA887A"/>
<line x1="192.26" y1="399.40" x2="192.26" y2="400.80" stroke="#222" stroke-width="0.9"/>
<line x1="190.86" y1="399.80" x2="193.66" y2="399.80" stroke="#222" stroke-width="0.9"/>
<rect x="203.30" y="427.30" width="5.00" height="1.90" fill="#000000"/>
<path d="M204.30 425.70 L207.30 425.70 L206.30 427.30 L205.30 427.30 Z" fill="#1a1a1a" fill-opacity="0.85"/>
<rect x="210.94" y="427.00" width="5.00" height="2.20" fill="#8F97BD"/>
<path d="M211.94 425.40 L214.94 425.40 L213.94 427.00 L212.94 427.00 Z" fill="#1a1a1a" fill-opacity="0.85"/>
<rect x="218.58" y="427.50" width="5.00" height="1.70" fill="#55699B"/>
<path d="M219.58 425.90 L222.58 425.90 L221.58 427.50 L220.58 427.50 Z" fill="#1a1a1a" fill-opacity="0.85"/>
<rect x="226.22" y="427.10" width="5.00" height="2.10" fill="#A50026"/>
<path d="M227.22 425.50 L230.22 425.50 L229.22 427.10 L228.22 427.10 Z" fill="#1a1a1a" fill-opacity="0.85"/>
<rect x="233.86" y="426.30" width="5.00" height="2.90" fill="#CA887A"/>
<path d="M234.86 424.70 L237.86 424.70 L236.86 426.30 L235.86 426.30 Z" fill="#1a1a1a" fill-opacity="0.85"/>
<rect x="247.10" y="417.70" width="5.00" height="11.50" fill="#000000"/>
<path d="M248.10 416.10 L251.10 416.10 L250.10 417.70 L249.10 417.70 Z" fill="#1a1a1a" fill-opacity="0.85"/>
<rect x="254.74" y="416.70" width="5.00" height="12.50" fill="#8F97BD"/>
<path d="M255.74 415.10 L258.74 415.10 L257.74 416.70 L256.74 416.70 Z" fill="#1a1a1a" fill-opacity="0.85"/>
<rect x="262.38" y="416.50" width="5.00" height="12.70" fill="#55699B"/>
<path d="M263.38 414.90 L266.38 414.90 L265.38 416.50 L264.38 416.50 Z" fill="#1a1a1a" fill-opacity="0.85"/>
<rect x="270.02" y="415.60" width="5.00" height="13.60" fill="#A50026"/>
<path d="M271.02 414.00 L274.02 414.00 L273.02 415.60 L272.02 415.60 Z" fill="#1a1a1a" fill-opacity="0.85"/>
<rect x="277.66" y="414.80" width="5.00" height="14.40" fill="#CA887A"/>
<path d="M278.66 413.20 L281.66 413.20 L280.66 414.80 L279.66 414.80 Z" fill="#1a1a1a" fill-opacity="0.85"/>
<rect x="290.40" y="421.90" width="5.00" height="7.30" fill="#000000"/>
<path d="M291.40 420.30 L294.40 420.30 L293.40 421.90 L292.40 421.90 Z" fill="#1a1a1a" fill-opacity="0.85"/>
<rect x="298.04" y="417.10" width="5.00" height="12.10" fill="#8F97BD"/>
<path d="M299.04 415.50 L302.04 415.50 L301.04 417.10 L300.04 417.10 Z" fill="#1a1a1a" fill-opacity="0.85"/>
<rect x="305.68" y="417.70" width="5.00" height="11.50" fill="#55699B"/>
<path d="M306.68 416.10 L309.68 416.10 L308.68 417.70 L307.68 417.70 Z" fill="#1a1a1a" fill-opacity="0.85"/>
<rect x="313.32" y="409.40" width="5.00" height="19.80" fill="#A50026"/>
<path d="M314.32 407.80 L317.32 407.80 L316.32 409.40 L315.32 409.40 Z" fill="#1a1a1a" fill-opacity="0.85"/>
<rect x="320.96" y="409.80" width="5.00" height="19.40" fill="#CA887A"/>
<path d="M321.96 408.20 L324.96 408.20 L323.96 409.80 L322.96 409.80 Z" fill="#1a1a1a" fill-opacity="0.85"/>
<rect x="336.90" y="425.40" width="5.00" height="3.80" fill="#000000"/>
<path d="M337.90 423.80 L340.90 423.80 L339.90 425.40 L338.90 425.40 Z" fill="#1a1a1a" fill-opacity="0.85"/>
<rect x="344.54" y="426.30" width="5.00" height="2.90" fill="#8F97BD"/>
<path d="M345.54 424.70 L348.54 424.70 L347.54 426.30 L346.54 426.30 Z" fill="#1a1a1a" fill-opacity="0.85"/>
<rect x="352.18" y="425.00" width="5.00" height="4.20" fill="#55699B"/>
<path d="M353.18 423.40 L356.18 423.40 L355.18 425.00 L354.18 425.00 Z" fill="#1a1a1a" fill-opacity="0.85"/>
<rect x="359.82" y="424.80" width="5.00" height="4.40" fill="#A50026"/>
<path d="M360.82 423.20 L363.82 423.20 L362.82 424.80 L361.82 424.80 Z" fill="#1a1a1a" fill-opacity="0.85"/>
<rect x="367.46" y="425.20" width="5.00" height="4.00" fill="#CA887A"/>
<path d="M368.46 423.60 L371.46 423.60 L370.46 425.20 L369.46 425.20 Z" fill="#1a1a1a" fill-opacity="0.85"/>
<rect x="379.80" y="424.40" width="5.00" height="4.80" fill="#000000"/>
<path d="M380.80 422.80 L383.80 422.80 L382.80 424.40 L381.80 424.40 Z" fill="#1a1a1a" fill-opacity="0.85"/>
<rect x="387.44" y="421.50" width="5.00" height="7.70" fill="#8F97BD"/>
<path d="M388.44 419.90 L391.44 419.90 L390.44 421.50 L389.44 421.50 Z" fill="#1a1a1a" fill-opacity="0.85"/>
<rect x="395.08" y="420.40" width="5.00" height="8.80" fill="#55699B"/>
<path d="M396.08 418.80 L399.08 418.80 L398.08 420.40 L397.08 420.40 Z" fill="#1a1a1a" fill-opacity="0.85"/>
<rect x="402.72" y="421.30" width="5.00" height="7.90" fill="#A50026"/>
<path d="M403.72 419.70 L406.72 419.70 L405.72 421.30 L404.72 421.30 Z" fill="#1a1a1a" fill-opacity="0.85"/>
<rect x="410.36" y="419.00" width="5.00" height="10.20" fill="#CA887A"/>
<path d="M411.36 417.40 L414.36 417.40 L413.36 419.00 L412.36 419.00 Z" fill="#1a1a1a" fill-opacity="0.85"/>
<rect x="422.80" y="423.40" width="5.00" height="5.80" fill="#000000"/>
<path d="M423.80 421.80 L426.80 421.80 L425.80 423.40 L424.80 423.40 Z" fill="#1a1a1a" fill-opacity="0.85"/>
<rect x="430.44" y="419.60" width="5.00" height="9.60" fill="#8F97BD"/>
<path d="M431.44 418.00 L434.44 418.00 L433.44 419.60 L432.44 419.60 Z" fill="#1a1a1a" fill-opacity="0.85"/>
<rect x="438.08" y="421.50" width="5.00" height="7.70" fill="#55699B"/>
<path d="M439.08 419.90 L442.08 419.90 L441.08 421.50 L440.08 421.50 Z" fill="#1a1a1a" fill-opacity="0.85"/>
<rect x="445.72" y="421.50" width="5.00" height="7.70" fill="#A50026"/>
<path d="M446.72 419.90 L449.72 419.90 L448.72 421.50 L447.72 421.50 Z" fill="#1a1a1a" fill-opacity="0.85"/>
<rect x="453.36" y="422.20" width="5.00" height="7.00" fill="#CA887A"/>
<path d="M454.36 420.60 L457.36 420.60 L456.36 422.20 L455.36 422.20 Z" fill="#1a1a1a" fill-opacity="0.85"/>
<rect x="468.20" y="427.80" width="5.00" height="1.40" fill="#000000"/>
<path d="M469.20 426.20 L472.20 426.20 L471.20 427.80 L470.20 427.80 Z" fill="#1a1a1a" fill-opacity="0.85"/>
<rect x="475.84" y="428.00" width="5.00" height="1.20" fill="#8F97BD"/>
<path d="M476.84 426.40 L479.84 426.40 L478.84 428.00 L477.84 428.00 Z" fill="#1a1a1a" fill-opacity="0.85"/>
<rect x="483.48" y="428.00" width="5.00" height="1.20" fill="#55699B"/>
<path d="M484.48 426.40 L487.48 426.40 L486.48 428.00 L485.48 428.00 Z" fill="#1a1a1a" fill-opacity="0.85"/>
<rect x="491.12" y="428.00" width="5.00" height="1.20" fill="#A50026"/>
<path d="M492.12 426.40 L495.12 426.40 L494.12 428.00 L493.12 428.00 Z" fill="#1a1a1a" fill-opacity="0.85"/>
<rect x="498.76" y="428.00" width="5.00" height="1.20" fill="#CA887A"/>
<path d="M499.76 426.40 L502.76 426.40 L501.76 428.00 L500.76 428.00 Z" fill="#1a1a1a" fill-opacity="0.85"/>
<text x="45.50" y="407.00" font-size="8.6" text-anchor="middle" fill="#111" stroke="#111" stroke-width="0.1" textLength="15.00" lengthAdjust="spacingAndGlyphs" transform="rotate(-90 45.50 407.00)">BIM</text>
<text x="24.80" y="309.20" font-size="10.0" text-anchor="middle" fill="#111" stroke="#111" stroke-width="0.1" textLength="96.70" lengthAdjust="spacingAndGlyphs" transform="rotate(-90 24.80 309.20)">Relative expression 24 h</text>
<text x="70.30" y="192.40" font-size="6.9" text-anchor="start" fill="#1a1a1a" stroke="#1a1a1a" stroke-width="0.16" textLength="28.70" lengthAdjust="spacingAndGlyphs">q&lt;0.0001</text>
<text x="73.10" y="201.30" font-size="6.9" text-anchor="start" fill="#1a1a1a" stroke="#1a1a1a" stroke-width="0.16" textLength="22.60" lengthAdjust="spacingAndGlyphs">Fc~40x</text>
<path d="M73.10 206.10 Q73.10 204.80 74.10 204.80 L95.20 204.80 Q96.20 204.80 96.20 206.10" fill="none" stroke="#333" stroke-width="1.15"/>
<text x="112.30" y="192.40" font-size="6.9" text-anchor="start" fill="#1a1a1a" stroke="#1a1a1a" stroke-width="0.16" textLength="28.10" lengthAdjust="spacingAndGlyphs">q&lt;0.0001</text>
<text x="114.90" y="201.30" font-size="6.9" text-anchor="start" fill="#1a1a1a" stroke="#1a1a1a" stroke-width="0.16" textLength="22.70" lengthAdjust="spacingAndGlyphs">Fc~17x</text>
<path d="M116.60 206.10 Q116.60 204.80 117.60 204.80 L138.20 204.80 Q139.20 204.80 139.20 206.10" fill="none" stroke="#333" stroke-width="1.15"/>
<text x="160.00" y="192.40" font-size="6.9" text-anchor="start" fill="#1a1a1a" stroke="#1a1a1a" stroke-width="0.16" textLength="21.70" lengthAdjust="spacingAndGlyphs">q=0.05</text>
<text x="162.00" y="201.30" font-size="6.9" text-anchor="start" fill="#1a1a1a" stroke="#1a1a1a" stroke-width="0.16" textLength="18.80" lengthAdjust="spacingAndGlyphs">Fc~3x</text>
<path d="M160.00 206.10 Q160.00 204.80 161.00 204.80 L181.70 204.80 Q182.70 204.80 182.70 206.10" fill="none" stroke="#333" stroke-width="1.15"/>
<text x="202.30" y="192.40" font-size="6.9" text-anchor="start" fill="#1a1a1a" stroke="#1a1a1a" stroke-width="0.16" textLength="28.50" lengthAdjust="spacingAndGlyphs">q&lt;0.0001</text>
<text x="205.80" y="201.30" font-size="6.9" text-anchor="start" fill="#1a1a1a" stroke="#1a1a1a" stroke-width="0.16" textLength="23.00" lengthAdjust="spacingAndGlyphs">Fc~3.5x</text>
<path d="M205.20 206.10 Q205.20 204.80 206.20 204.80 L226.90 204.80 Q227.90 204.80 227.90 206.10" fill="none" stroke="#333" stroke-width="1.15"/>
<text x="289.00" y="192.40" font-size="6.9" text-anchor="start" fill="#1a1a1a" stroke="#1a1a1a" stroke-width="0.16" textLength="28.30" lengthAdjust="spacingAndGlyphs">q&lt;0.0001</text>
<text x="292.00" y="201.30" font-size="6.9" text-anchor="start" fill="#1a1a1a" stroke="#1a1a1a" stroke-width="0.16" textLength="22.00" lengthAdjust="spacingAndGlyphs">Fc~20x</text>
<path d="M290.40 206.10 Q290.40 204.80 291.40 204.80 L313.00 204.80 Q314.00 204.80 314.00 206.10" fill="none" stroke="#333" stroke-width="1.15"/>
<text x="422.00" y="192.40" font-size="6.9" text-anchor="start" fill="#1a1a1a" stroke="#1a1a1a" stroke-width="0.16" textLength="29.00" lengthAdjust="spacingAndGlyphs">q=0.0009</text>
<text x="424.80" y="201.30" font-size="6.9" text-anchor="start" fill="#1a1a1a" stroke="#1a1a1a" stroke-width="0.16" textLength="23.70" lengthAdjust="spacingAndGlyphs">Fc~2.5x</text>
<path d="M426.70 206.10 Q426.70 204.80 427.70 204.80 L448.20 204.80 Q449.20 204.80 449.20 206.10" fill="none" stroke="#333" stroke-width="1.15"/>
<text x="465.80" y="192.40" font-size="6.9" text-anchor="start" fill="#1a1a1a" stroke="#1a1a1a" stroke-width="0.16" textLength="29.20" lengthAdjust="spacingAndGlyphs">q=0.0008</text>
<text x="468.70" y="201.30" font-size="6.9" text-anchor="start" fill="#1a1a1a" stroke="#1a1a1a" stroke-width="0.16" textLength="23.30" lengthAdjust="spacingAndGlyphs">Fc~2.5x</text>
<path d="M470.40 206.10 Q470.40 204.80 471.40 204.80 L491.70 204.80 Q492.70 204.80 492.70 206.10" fill="none" stroke="#333" stroke-width="1.15"/>
<text x="244.80" y="251.40" font-size="6.9" text-anchor="start" fill="#1a1a1a" stroke="#1a1a1a" stroke-width="0.16" textLength="26.00" lengthAdjust="spacingAndGlyphs">q=0.004</text>
<text x="245.80" y="260.40" font-size="6.9" text-anchor="start" fill="#1a1a1a" stroke="#1a1a1a" stroke-width="0.16" textLength="24.00" lengthAdjust="spacingAndGlyphs">Fc~0.6x</text>
<path d="M246.30 265.90 Q246.30 264.60 247.30 264.60 L267.50 264.60 Q268.50 264.60 268.50 265.90" fill="none" stroke="#333" stroke-width="1.15"/>
<text x="292.30" y="251.40" font-size="6.9" text-anchor="start" fill="#1a1a1a" stroke="#1a1a1a" stroke-width="0.16" textLength="21.20" lengthAdjust="spacingAndGlyphs">q=0.05</text>
<text x="291.00" y="260.40" font-size="6.9" text-anchor="start" fill="#1a1a1a" stroke="#1a1a1a" stroke-width="0.16" textLength="24.00" lengthAdjust="spacingAndGlyphs">Fc~0.8x</text>
<path d="M292.30 265.90 Q292.30 264.60 293.30 264.60 L313.60 264.60 Q314.60 264.60 314.60 265.90" fill="none" stroke="#333" stroke-width="1.15"/>
<text x="242.60" y="317.40" font-size="6.9" text-anchor="start" fill="#1a1a1a" stroke="#1a1a1a" stroke-width="0.16" textLength="31.50" lengthAdjust="spacingAndGlyphs">q=0.0005</text>
<text x="245.70" y="326.90" font-size="6.9" text-anchor="start" fill="#1a1a1a" stroke="#1a1a1a" stroke-width="0.16" textLength="26.00" lengthAdjust="spacingAndGlyphs">Fc~0.4x</text>
<path d="M246.90 333.10 Q246.90 331.80 247.90 331.80 L268.80 331.80 Q269.80 331.80 269.80 333.10" fill="none" stroke="#333" stroke-width="1.15"/>
<text x="289.00" y="317.40" font-size="6.9" text-anchor="start" fill="#1a1a1a" stroke="#1a1a1a" stroke-width="0.16" textLength="30.90" lengthAdjust="spacingAndGlyphs">q&lt;0.0001</text>
<text x="291.60" y="326.90" font-size="6.9" text-anchor="start" fill="#1a1a1a" stroke="#1a1a1a" stroke-width="0.16" textLength="25.40" lengthAdjust="spacingAndGlyphs">Fc~0.3x</text>
<path d="M292.80 333.10 Q292.80 331.80 293.80 331.80 L314.80 331.80 Q315.80 331.80 315.80 333.10" fill="none" stroke="#333" stroke-width="1.15"/>
<text x="69.20" y="382.50" font-size="6.9" text-anchor="start" fill="#1a1a1a" stroke="#1a1a1a" stroke-width="0.16" textLength="31.60" lengthAdjust="spacingAndGlyphs">q=0.0005</text>
<text x="75.00" y="391.80" font-size="6.9" text-anchor="start" fill="#1a1a1a" stroke="#1a1a1a" stroke-width="0.16" textLength="20.20" lengthAdjust="spacingAndGlyphs">Fc~2x</text>
<path d="M74.00 396.70 Q74.00 395.40 75.00 395.40 L95.50 395.40 Q96.50 395.40 96.50 396.70" fill="none" stroke="#333" stroke-width="1.15"/>
<text x="113.30" y="382.50" font-size="6.9" text-anchor="start" fill="#1a1a1a" stroke="#1a1a1a" stroke-width="0.16" textLength="30.40" lengthAdjust="spacingAndGlyphs">q&lt;0.0001</text>
<text x="118.70" y="391.80" font-size="6.9" text-anchor="start" fill="#1a1a1a" stroke="#1a1a1a" stroke-width="0.16" textLength="20.10" lengthAdjust="spacingAndGlyphs">Fc~4x</text>
<path d="M117.10 396.70 Q117.10 395.40 118.10 395.40 L138.20 395.40 Q139.20 395.40 139.20 396.70" fill="none" stroke="#333" stroke-width="1.15"/>
<text x="158.70" y="382.50" font-size="6.9" text-anchor="start" fill="#1a1a1a" stroke="#1a1a1a" stroke-width="0.16" textLength="27.30" lengthAdjust="spacingAndGlyphs">q=0.003</text>
<text x="162.50" y="391.80" font-size="6.9" text-anchor="start" fill="#1a1a1a" stroke="#1a1a1a" stroke-width="0.16" textLength="19.80" lengthAdjust="spacingAndGlyphs">Fc~2x</text>
<path d="M161.00 396.70 Q161.00 395.40 162.00 395.40 L183.00 395.40 Q184.00 395.40 184.00 396.70" fill="none" stroke="#333" stroke-width="1.15"/>
<text x="203.30" y="382.50" font-size="6.9" text-anchor="start" fill="#1a1a1a" stroke="#1a1a1a" stroke-width="0.16" textLength="26.90" lengthAdjust="spacingAndGlyphs">q=0.005</text>
<text x="203.80" y="391.80" font-size="6.9" text-anchor="start" fill="#1a1a1a" stroke="#1a1a1a" stroke-width="0.16" textLength="25.60" lengthAdjust="spacingAndGlyphs">Fc~1.2x</text>
<path d="M205.80 396.70 Q205.80 395.40 206.80 395.40 L226.90 395.40 Q227.90 395.40 227.90 396.70" fill="none" stroke="#333" stroke-width="1.15"/>
<text x="247.10" y="382.50" font-size="6.9" text-anchor="start" fill="#1a1a1a" stroke="#1a1a1a" stroke-width="0.16" textLength="27.10" lengthAdjust="spacingAndGlyphs">q=0.005</text>
<text x="247.70" y="391.80" font-size="6.9" text-anchor="start" fill="#1a1a1a" stroke="#1a1a1a" stroke-width="0.16" textLength="25.30" lengthAdjust="spacingAndGlyphs">Fc~1.2x</text>
<path d="M248.70 396.70 Q248.70 395.40 249.70 395.40 L269.80 395.40 Q270.80 395.40 270.80 396.70" fill="none" stroke="#333" stroke-width="1.15"/>
<text x="289.60" y="382.50" font-size="6.9" text-anchor="start" fill="#1a1a1a" stroke="#1a1a1a" stroke-width="0.16" textLength="30.80" lengthAdjust="spacingAndGlyphs">q&lt;0.0001</text>
<text x="292.30" y="391.80" font-size="6.9" text-anchor="start" fill="#1a1a1a" stroke="#1a1a1a" stroke-width="0.16" textLength="25.60" lengthAdjust="spacingAndGlyphs">Fc~2.5x</text>
<path d="M292.30 396.70 Q292.30 395.40 293.30 395.40 L314.00 395.40 Q315.00 395.40 315.00 396.70" fill="none" stroke="#333" stroke-width="1.15"/>
<text x="379.80" y="382.50" font-size="6.9" text-anchor="start" fill="#1a1a1a" stroke="#1a1a1a" stroke-width="0.16" textLength="27.30" lengthAdjust="spacingAndGlyphs">q=0.003</text>
<text x="379.80" y="391.80" font-size="6.9" text-anchor="start" fill="#1a1a1a" stroke="#1a1a1a" stroke-width="0.16" textLength="25.60" lengthAdjust="spacingAndGlyphs">Fc~1.6x</text>
<path d="M382.30 396.70 Q382.30 395.40 383.30 395.40 L403.80 395.40 Q404.80 395.40 404.80 396.70" fill="none" stroke="#333" stroke-width="1.15"/>
<text x="424.20" y="382.50" font-size="6.9" text-anchor="start" fill="#1a1a1a" stroke="#1a1a1a" stroke-width="0.16" textLength="26.40" lengthAdjust="spacingAndGlyphs">q=0.005</text>
<text x="424.70" y="391.80" font-size="6.9" text-anchor="start" fill="#1a1a1a" stroke="#1a1a1a" stroke-width="0.16" textLength="25.90" lengthAdjust="spacingAndGlyphs">Fc~1.2x</text>
<path d="M426.40 396.70 Q426.40 395.40 427.40 395.40 L448.40 395.40 Q449.40 395.40 449.40 396.70" fill="none" stroke="#333" stroke-width="1.15"/>
<text x="71.30" y="469.30" font-size="7.1" text-anchor="start" fill="#111" stroke="#111" stroke-width="0.2" textLength="19.20" lengthAdjust="spacingAndGlyphs" transform="rotate(-90 71.30 469.30)">DMSO</text>
<text x="79.60" y="469.30" font-size="7.1" text-anchor="start" fill="#111" stroke="#111" stroke-width="0.2" textLength="17.30" lengthAdjust="spacingAndGlyphs" transform="rotate(-90 79.60 469.30)">ENTO</text>
<text x="87.90" y="469.30" font-size="7.1" text-anchor="start" fill="#111" stroke="#111" stroke-width="0.2" textLength="15.40" lengthAdjust="spacingAndGlyphs" transform="rotate(-90 87.90 469.30)">IBRU</text>
<text x="96.20" y="469.30" font-size="7.1" text-anchor="start" fill="#111" stroke="#111" stroke-width="0.2" textLength="17.30" lengthAdjust="spacingAndGlyphs" transform="rotate(-90 96.20 469.30)">COPA</text>
<text x="104.50" y="469.30" font-size="7.1" text-anchor="start" fill="#111" stroke="#111" stroke-width="0.2" textLength="16.30" lengthAdjust="spacingAndGlyphs" transform="rotate(-90 104.50 469.30)">PICTI</text>
<text x="113.60" y="469.30" font-size="7.1" text-anchor="start" fill="#111" stroke="#111" stroke-width="0.2" textLength="19.20" lengthAdjust="spacingAndGlyphs" transform="rotate(-90 113.60 469.30)">DMSO</text>
<text x="121.90" y="469.30" font-size="7.1" text-anchor="start" fill="#111" stroke="#111" stroke-width="0.2" textLength="17.30" lengthAdjust="spacingAndGlyphs" transform="rotate(-90 121.90 469.30)">ENTO</text>
<text x="130.20" y="469.30" font-size="7.1" text-anchor="start" fill="#111" stroke="#111" stroke-width="0.2" textLength="15.40" lengthAdjust="spacingAndGlyphs" transform="rotate(-90 130.20 469.30)">IBRU</text>
<text x="138.50" y="469.30" font-size="7.1" text-anchor="start" fill="#111" stroke="#111" stroke-width="0.2" textLength="17.30" lengthAdjust="spacingAndGlyphs" transform="rotate(-90 138.50 469.30)">COPA</text>
<text x="146.80" y="469.30" font-size="7.1" text-anchor="start" fill="#111" stroke="#111" stroke-width="0.2" textLength="16.30" lengthAdjust="spacingAndGlyphs" transform="rotate(-90 146.80 469.30)">PICTI</text>
<text x="160.40" y="469.30" font-size="7.1" text-anchor="start" fill="#111" stroke="#111" stroke-width="0.2" textLength="19.20" lengthAdjust="spacingAndGlyphs" transform="rotate(-90 160.40 469.30)">DMSO</text>
<text x="168.70" y="469.30" font-size="7.1" text-anchor="start" fill="#111" stroke="#111" stroke-width="0.2" textLength="17.30" lengthAdjust="spacingAndGlyphs" transform="rotate(-90 168.70 469.30)">ENTO</text>
<text x="177.00" y="469.30" font-size="7.1" text-anchor="start" fill="#111" stroke="#111" stroke-width="0.2" textLength="15.40" lengthAdjust="spacingAndGlyphs" transform="rotate(-90 177.00 469.30)">IBRU</text>
<text x="185.30" y="469.30" font-size="7.1" text-anchor="start" fill="#111" stroke="#111" stroke-width="0.2" textLength="17.30" lengthAdjust="spacingAndGlyphs" transform="rotate(-90 185.30 469.30)">COPA</text>
<text x="193.60" y="469.30" font-size="7.1" text-anchor="start" fill="#111" stroke="#111" stroke-width="0.2" textLength="16.30" lengthAdjust="spacingAndGlyphs" transform="rotate(-90 193.60 469.30)">PICTI</text>
<text x="202.60" y="469.30" font-size="7.1" text-anchor="start" fill="#111" stroke="#111" stroke-width="0.2" textLength="19.20" lengthAdjust="spacingAndGlyphs" transform="rotate(-90 202.60 469.30)">DMSO</text>
<text x="210.90" y="469.30" font-size="7.1" text-anchor="start" fill="#111" stroke="#111" stroke-width="0.2" textLength="17.30" lengthAdjust="spacingAndGlyphs" transform="rotate(-90 210.90 469.30)">ENTO</text>
<text x="219.20" y="469.30" font-size="7.1" text-anchor="start" fill="#111" stroke="#111" stroke-width="0.2" textLength="15.40" lengthAdjust="spacingAndGlyphs" transform="rotate(-90 219.20 469.30)">IBRU</text>
<text x="227.50" y="469.30" font-size="7.1" text-anchor="start" fill="#111" stroke="#111" stroke-width="0.2" textLength="17.30" lengthAdjust="spacingAndGlyphs" transform="rotate(-90 227.50 469.30)">COPA</text>
<text x="235.80" y="469.30" font-size="7.1" text-anchor="start" fill="#111" stroke="#111" stroke-width="0.2" textLength="16.30" lengthAdjust="spacingAndGlyphs" transform="rotate(-90 235.80 469.30)">PICTI</text>
<text x="248.40" y="469.30" font-size="7.1" text-anchor="start" fill="#111" stroke="#111" stroke-width="0.2" textLength="19.20" lengthAdjust="spacingAndGlyphs" transform="rotate(-90 248.40 469.30)">DMSO</text>
<text x="256.70" y="469.30" font-size="7.1" text-anchor="start" fill="#111" stroke="#111" stroke-width="0.2" textLength="17.30" lengthAdjust="spacingAndGlyphs" transform="rotate(-90 256.70 469.30)">ENTO</text>
<text x="265.00" y="469.30" font-size="7.1" text-anchor="start" fill="#111" stroke="#111" stroke-width="0.2" textLength="15.40" lengthAdjust="spacingAndGlyphs" transform="rotate(-90 265.00 469.30)">IBRU</text>
<text x="273.30" y="469.30" font-size="7.1" text-anchor="start" fill="#111" stroke="#111" stroke-width="0.2" textLength="17.30" lengthAdjust="spacingAndGlyphs" transform="rotate(-90 273.30 469.30)">COPA</text>
<text x="281.60" y="469.30" font-size="7.1" text-anchor="start" fill="#111" stroke="#111" stroke-width="0.2" textLength="16.30" lengthAdjust="spacingAndGlyphs" transform="rotate(-90 281.60 469.30)">PICTI</text>
<text x="289.80" y="469.30" font-size="7.1" text-anchor="start" fill="#111" stroke="#111" stroke-width="0.2" textLength="19.20" lengthAdjust="spacingAndGlyphs" transform="rotate(-90 289.80 469.30)">DMSO</text>
<text x="298.10" y="469.30" font-size="7.1" text-anchor="start" fill="#111" stroke="#111" stroke-width="0.2" textLength="17.30" lengthAdjust="spacingAndGlyphs" transform="rotate(-90 298.10 469.30)">ENTO</text>
<text x="306.40" y="469.30" font-size="7.1" text-anchor="start" fill="#111" stroke="#111" stroke-width="0.2" textLength="15.40" lengthAdjust="spacingAndGlyphs" transform="rotate(-90 306.40 469.30)">IBRU</text>
<text x="314.70" y="469.30" font-size="7.1" text-anchor="start" fill="#111" stroke="#111" stroke-width="0.2" textLength="17.30" lengthAdjust="spacingAndGlyphs" transform="rotate(-90 314.70 469.30)">COPA</text>
<text x="323.00" y="469.30" font-size="7.1" text-anchor="start" fill="#111" stroke="#111" stroke-width="0.2" textLength="16.30" lengthAdjust="spacingAndGlyphs" transform="rotate(-90 323.00 469.30)">PICTI</text>
<text x="339.20" y="469.30" font-size="7.1" text-anchor="start" fill="#111" stroke="#111" stroke-width="0.2" textLength="19.20" lengthAdjust="spacingAndGlyphs" transform="rotate(-90 339.20 469.30)">DMSO</text>
<text x="347.50" y="469.30" font-size="7.1" text-anchor="start" fill="#111" stroke="#111" stroke-width="0.2" textLength="17.30" lengthAdjust="spacingAndGlyphs" transform="rotate(-90 347.50 469.30)">ENTO</text>
<text x="355.80" y="469.30" font-size="7.1" text-anchor="start" fill="#111" stroke="#111" stroke-width="0.2" textLength="15.40" lengthAdjust="spacingAndGlyphs" transform="rotate(-90 355.80 469.30)">IBRU</text>
<text x="364.10" y="469.30" font-size="7.1" text-anchor="start" fill="#111" stroke="#111" stroke-width="0.2" textLength="17.30" lengthAdjust="spacingAndGlyphs" transform="rotate(-90 364.10 469.30)">COPA</text>
<text x="372.40" y="469.30" font-size="7.1" text-anchor="start" fill="#111" stroke="#111" stroke-width="0.2" textLength="16.30" lengthAdjust="spacingAndGlyphs" transform="rotate(-90 372.40 469.30)">PICTI</text>
<text x="381.60" y="469.30" font-size="7.1" text-anchor="start" fill="#111" stroke="#111" stroke-width="0.2" textLength="19.20" lengthAdjust="spacingAndGlyphs" transform="rotate(-90 381.60 469.30)">DMSO</text>
<text x="389.90" y="469.30" font-size="7.1" text-anchor="start" fill="#111" stroke="#111" stroke-width="0.2" textLength="17.30" lengthAdjust="spacingAndGlyphs" transform="rotate(-90 389.90 469.30)">ENTO</text>
<text x="398.20" y="469.30" font-size="7.1" text-anchor="start" fill="#111" stroke="#111" stroke-width="0.2" textLength="15.40" lengthAdjust="spacingAndGlyphs" transform="rotate(-90 398.20 469.30)">IBRU</text>
<text x="406.50" y="469.30" font-size="7.1" text-anchor="start" fill="#111" stroke="#111" stroke-width="0.2" textLength="17.30" lengthAdjust="spacingAndGlyphs" transform="rotate(-90 406.50 469.30)">COPA</text>
<text x="414.80" y="469.30" font-size="7.1" text-anchor="start" fill="#111" stroke="#111" stroke-width="0.2" textLength="16.30" lengthAdjust="spacingAndGlyphs" transform="rotate(-90 414.80 469.30)">PICTI</text>
<text x="428.10" y="469.30" font-size="7.1" text-anchor="start" fill="#111" stroke="#111" stroke-width="0.2" textLength="19.20" lengthAdjust="spacingAndGlyphs" transform="rotate(-90 428.10 469.30)">DMSO</text>
<text x="436.40" y="469.30" font-size="7.1" text-anchor="start" fill="#111" stroke="#111" stroke-width="0.2" textLength="17.30" lengthAdjust="spacingAndGlyphs" transform="rotate(-90 436.40 469.30)">ENTO</text>
<text x="444.70" y="469.30" font-size="7.1" text-anchor="start" fill="#111" stroke="#111" stroke-width="0.2" textLength="15.40" lengthAdjust="spacingAndGlyphs" transform="rotate(-90 444.70 469.30)">IBRU</text>
<text x="453.00" y="469.30" font-size="7.1" text-anchor="start" fill="#111" stroke="#111" stroke-width="0.2" textLength="17.30" lengthAdjust="spacingAndGlyphs" transform="rotate(-90 453.00 469.30)">COPA</text>
<text x="461.30" y="469.30" font-size="7.1" text-anchor="start" fill="#111" stroke="#111" stroke-width="0.2" textLength="16.30" lengthAdjust="spacingAndGlyphs" transform="rotate(-90 461.30 469.30)">PICTI</text>
<text x="469.80" y="469.30" font-size="7.1" text-anchor="start" fill="#111" stroke="#111" stroke-width="0.2" textLength="19.20" lengthAdjust="spacingAndGlyphs" transform="rotate(-90 469.80 469.30)">DMSO</text>
<text x="478.10" y="469.30" font-size="7.1" text-anchor="start" fill="#111" stroke="#111" stroke-width="0.2" textLength="17.30" lengthAdjust="spacingAndGlyphs" transform="rotate(-90 478.10 469.30)">ENTO</text>
<text x="486.40" y="469.30" font-size="7.1" text-anchor="start" fill="#111" stroke="#111" stroke-width="0.2" textLength="15.40" lengthAdjust="spacingAndGlyphs" transform="rotate(-90 486.40 469.30)">IBRU</text>
<text x="494.70" y="469.30" font-size="7.1" text-anchor="start" fill="#111" stroke="#111" stroke-width="0.2" textLength="17.30" lengthAdjust="spacingAndGlyphs" transform="rotate(-90 494.70 469.30)">COPA</text>
<text x="503.00" y="469.30" font-size="7.1" text-anchor="start" fill="#111" stroke="#111" stroke-width="0.2" textLength="16.30" lengthAdjust="spacingAndGlyphs" transform="rotate(-90 503.00 469.30)">PICTI</text>
<text x="39.20" y="481.20" font-size="7.3" text-anchor="start" fill="#111" stroke="#111" stroke-width="0.22" textLength="19.90" lengthAdjust="spacingAndGlyphs">MCL-1</text>
<text x="38.90" y="494.40" font-size="7.3" text-anchor="start" fill="#111" stroke="#111" stroke-width="0.22" textLength="18.80" lengthAdjust="spacingAndGlyphs">BCL-2</text>
<text x="37.00" y="506.30" font-size="7.3" text-anchor="start" fill="#111" stroke="#111" stroke-width="0.22" textLength="22.80" lengthAdjust="spacingAndGlyphs">β-actin</text>
<text x="39.20" y="517.70" font-size="7.3" text-anchor="start" fill="#111" stroke="#111" stroke-width="0.22" textLength="19.90" lengthAdjust="spacingAndGlyphs">MCL-1</text>
<text x="39.20" y="526.40" font-size="7.3" text-anchor="start" fill="#111" stroke="#111" stroke-width="0.22" textLength="33.00" lengthAdjust="spacingAndGlyphs">short exp.</text>
<rect x="63.20" y="473.10" width="43.80" height="11.10" fill="#efefef"/>
<rect x="107.00" y="473.10" width="43.40" height="11.10" fill="#cbcbcb"/>
<path d="M66.06 477.15 Q69.81 477.95 73.56 477.15 L73.56 479.80 Q69.81 481.15 66.06 479.80 Z" fill="#050505" fill-opacity="1.00" filter="url(#bl)"/>
<path d="M74.28 477.15 Q78.03 477.95 81.78 477.15 L81.78 479.80 Q78.03 481.15 74.28 479.80 Z" fill="#050505" fill-opacity="0.55" filter="url(#bl)"/>
<path d="M82.50 477.15 Q86.25 477.95 90.00 477.15 L90.00 479.80 Q86.25 481.15 82.50 479.80 Z" fill="#050505" fill-opacity="0.90" filter="url(#bl)"/>
<path d="M90.72 477.15 Q94.47 477.95 98.22 477.15 L98.22 479.80 Q94.47 481.15 90.72 479.80 Z" fill="#050505" fill-opacity="0.30" filter="url(#bl)"/>
<path d="M98.94 477.15 Q102.69 477.95 106.44 477.15 L106.44 479.80 Q102.69 481.15 98.94 479.80 Z" fill="#050505" fill-opacity="0.90" filter="url(#bl)"/>
<path d="M107.16 477.15 Q110.91 477.95 114.66 477.15 L114.66 479.80 Q110.91 481.15 107.16 479.80 Z" fill="#050505" fill-opacity="0.90" filter="url(#bl)"/>
<path d="M115.38 477.15 Q119.13 477.95 122.88 477.15 L122.88 479.80 Q119.13 481.15 115.38 479.80 Z" fill="#050505" fill-opacity="0.55" filter="url(#bl)"/>
<path d="M123.60 477.15 Q127.35 477.95 131.10 477.15 L131.10 479.80 Q127.35 481.15 123.60 479.80 Z" fill="#050505" fill-opacity="0.75" filter="url(#bl)"/>
<path d="M131.82 477.15 Q135.57 477.95 139.32 477.15 L139.32 479.80 Q135.57 481.15 131.82 479.80 Z" fill="#050505" fill-opacity="0.30" filter="url(#bl)"/>
<path d="M140.04 477.15 Q143.79 477.95 147.54 477.15 L147.54 479.80 Q143.79 481.15 140.04 479.80 Z" fill="#050505" fill-opacity="0.40" filter="url(#bl)"/>
<rect x="63.20" y="486.60" width="43.80" height="11.20" fill="#bcbcbc"/>
<rect x="107.00" y="486.60" width="43.40" height="11.20" fill="#d6d6d6"/>
<path d="M66.06 490.25 Q69.81 491.05 73.56 490.25 L73.56 492.90 Q69.81 494.25 66.06 492.90 Z" fill="#050505" fill-opacity="0.95" filter="url(#bl)"/>
<path d="M74.28 490.25 Q78.03 491.05 81.78 490.25 L81.78 492.90 Q78.03 494.25 74.28 492.90 Z" fill="#050505" fill-opacity="0.95" filter="url(#bl)"/>
<path d="M82.50 490.25 Q86.25 491.05 90.00 490.25 L90.00 492.90 Q86.25 494.25 82.50 492.90 Z" fill="#050505" fill-opacity="0.95" filter="url(#bl)"/>
<path d="M90.72 490.25 Q94.47 491.05 98.22 490.25 L98.22 492.90 Q94.47 494.25 90.72 492.90 Z" fill="#050505" fill-opacity="0.95" filter="url(#bl)"/>
<path d="M98.94 490.25 Q102.69 491.05 106.44 490.25 L106.44 492.90 Q102.69 494.25 98.94 492.90 Z" fill="#050505" fill-opacity="0.95" filter="url(#bl)"/>
<path d="M107.16 490.25 Q110.91 491.05 114.66 490.25 L114.66 492.90 Q110.91 494.25 107.16 492.90 Z" fill="#050505" fill-opacity="0.80" filter="url(#bl)"/>
<path d="M115.38 490.25 Q119.13 491.05 122.88 490.25 L122.88 492.90 Q119.13 494.25 115.38 492.90 Z" fill="#050505" fill-opacity="0.80" filter="url(#bl)"/>
<path d="M123.60 490.25 Q127.35 491.05 131.10 490.25 L131.10 492.90 Q127.35 494.25 123.60 492.90 Z" fill="#050505" fill-opacity="0.80" filter="url(#bl)"/>
<path d="M131.82 490.25 Q135.57 491.05 139.32 490.25 L139.32 492.90 Q135.57 494.25 131.82 492.90 Z" fill="#050505" fill-opacity="0.80" filter="url(#bl)"/>
<path d="M140.04 490.25 Q143.79 491.05 147.54 490.25 L147.54 492.90 Q143.79 494.25 140.04 492.90 Z" fill="#050505" fill-opacity="0.80" filter="url(#bl)"/>
<rect x="63.20" y="499.90" width="43.80" height="10.90" fill="#fbfbfb"/>
<rect x="107.00" y="499.90" width="43.40" height="10.90" fill="#f5f5f5"/>
<path d="M66.06 503.35 Q69.81 504.15 73.56 503.35 L73.56 506.40 Q69.81 507.75 66.06 506.40 Z" fill="#050505" fill-opacity="0.95" filter="url(#bl)"/>
<path d="M74.28 503.35 Q78.03 504.15 81.78 503.35 L81.78 506.40 Q78.03 507.75 74.28 506.40 Z" fill="#050505" fill-opacity="0.95" filter="url(#bl)"/>
<path d="M82.50 503.35 Q86.25 504.15 90.00 503.35 L90.00 506.40 Q86.25 507.75 82.50 506.40 Z" fill="#050505" fill-opacity="0.95" filter="url(#bl)"/>
<path d="M90.72 503.35 Q94.47 504.15 98.22 503.35 L98.22 506.40 Q94.47 507.75 90.72 506.40 Z" fill="#050505" fill-opacity="0.95" filter="url(#bl)"/>
<path d="M98.94 503.35 Q102.69 504.15 106.44 503.35 L106.44 506.40 Q102.69 507.75 98.94 506.40 Z" fill="#050505" fill-opacity="0.95" filter="url(#bl)"/>
<path d="M107.16 503.35 Q110.91 504.15 114.66 503.35 L114.66 506.40 Q110.91 507.75 107.16 506.40 Z" fill="#050505" fill-opacity="0.95" filter="url(#bl)"/>
<path d="M115.38 503.35 Q119.13 504.15 122.88 503.35 L122.88 506.40 Q119.13 507.75 115.38 506.40 Z" fill="#050505" fill-opacity="0.95" filter="url(#bl)"/>
<path d="M123.60 503.35 Q127.35 504.15 131.10 503.35 L131.10 506.40 Q127.35 507.75 123.60 506.40 Z" fill="#050505" fill-opacity="0.95" filter="url(#bl)"/>
<path d="M131.82 503.35 Q135.57 504.15 139.32 503.35 L139.32 506.40 Q135.57 507.75 131.82 506.40 Z" fill="#050505" fill-opacity="0.95" filter="url(#bl)"/>
<path d="M140.04 503.35 Q143.79 504.15 147.54 503.35 L147.54 506.40 Q143.79 507.75 140.04 506.40 Z" fill="#050505" fill-opacity="0.95" filter="url(#bl)"/>
<line x1="107.00" y1="473.10" x2="107.00" y2="510.80" stroke="#555" stroke-width="0.9"/>
<rect x="152.90" y="473.10" width="42.70" height="11.10" fill="#d9d9d9"/>
<rect x="195.60" y="473.10" width="43.40" height="11.10" fill="#cacaca"/>
<path d="M155.71 477.15 Q159.46 477.95 163.21 477.15 L163.21 479.80 Q159.46 481.15 155.71 479.80 Z" fill="#050505" fill-opacity="0.90" filter="url(#bl)"/>
<path d="M163.81 477.15 Q167.56 477.95 171.31 477.15 L171.31 479.80 Q167.56 481.15 163.81 479.80 Z" fill="#050505" fill-opacity="0.35" filter="url(#bl)"/>
<path d="M171.93 477.15 Q175.68 477.95 179.43 477.15 L179.43 479.80 Q175.68 481.15 171.93 479.80 Z" fill="#050505" fill-opacity="0.50" filter="url(#bl)"/>
<path d="M180.03 477.15 Q183.78 477.95 187.53 477.15 L187.53 479.80 Q183.78 481.15 180.03 479.80 Z" fill="#050505" fill-opacity="0.25" filter="url(#bl)"/>
<path d="M188.15 477.15 Q191.90 477.95 195.65 477.15 L195.65 479.80 Q191.90 481.15 188.15 479.80 Z" fill="#050505" fill-opacity="0.25" filter="url(#bl)"/>
<path d="M196.25 477.15 Q200.00 477.95 203.75 477.15 L203.75 479.80 Q200.00 481.15 196.25 479.80 Z" fill="#050505" fill-opacity="0.95" filter="url(#bl)"/>
<path d="M204.37 477.15 Q208.12 477.95 211.87 477.15 L211.87 479.80 Q208.12 481.15 204.37 479.80 Z" fill="#050505" fill-opacity="0.90" filter="url(#bl)"/>
<path d="M212.47 477.15 Q216.22 477.95 219.97 477.15 L219.97 479.80 Q216.22 481.15 212.47 479.80 Z" fill="#050505" fill-opacity="0.90" filter="url(#bl)"/>
<path d="M220.59 477.15 Q224.34 477.95 228.09 477.15 L228.09 479.80 Q224.34 481.15 220.59 479.80 Z" fill="#050505" fill-opacity="0.80" filter="url(#bl)"/>
<path d="M228.69 477.15 Q232.44 477.95 236.19 477.15 L236.19 479.80 Q232.44 481.15 228.69 479.80 Z" fill="#050505" fill-opacity="0.80" filter="url(#bl)"/>
<rect x="152.90" y="486.60" width="86.10" height="11.20" fill="#dcdcdc"/>
<path d="M155.71 490.25 Q159.46 491.05 163.21 490.25 L163.21 492.90 Q159.46 494.25 155.71 492.90 Z" fill="#050505" fill-opacity="0.90" filter="url(#bl)"/>
<path d="M163.81 490.25 Q167.56 491.05 171.31 490.25 L171.31 492.90 Q167.56 494.25 163.81 492.90 Z" fill="#050505" fill-opacity="0.90" filter="url(#bl)"/>
<path d="M171.93 490.25 Q175.68 491.05 179.43 490.25 L179.43 492.90 Q175.68 494.25 171.93 492.90 Z" fill="#050505" fill-opacity="0.90" filter="url(#bl)"/>
<path d="M180.03 490.25 Q183.78 491.05 187.53 490.25 L187.53 492.90 Q183.78 494.25 180.03 492.90 Z" fill="#050505" fill-opacity="0.90" filter="url(#bl)"/>
<path d="M188.15 490.25 Q191.90 491.05 195.65 490.25 L195.65 492.90 Q191.90 494.25 188.15 492.90 Z" fill="#050505" fill-opacity="0.90" filter="url(#bl)"/>
<rect x="152.90" y="499.90" width="86.10" height="10.90" fill="#cdcdcd"/>
<path d="M155.71 503.35 Q159.46 504.15 163.21 503.35 L163.21 506.40 Q159.46 507.75 155.71 506.40 Z" fill="#050505" fill-opacity="0.95" filter="url(#bl)"/>
<path d="M163.81 503.35 Q167.56 504.15 171.31 503.35 L171.31 506.40 Q167.56 507.75 163.81 506.40 Z" fill="#050505" fill-opacity="0.95" filter="url(#bl)"/>
<path d="M171.93 503.35 Q175.68 504.15 179.43 503.35 L179.43 506.40 Q175.68 507.75 171.93 506.40 Z" fill="#050505" fill-opacity="0.95" filter="url(#bl)"/>
<path d="M180.03 503.35 Q183.78 504.15 187.53 503.35 L187.53 506.40 Q183.78 507.75 180.03 506.40 Z" fill="#050505" fill-opacity="0.95" filter="url(#bl)"/>
<path d="M188.15 503.35 Q191.90 504.15 195.65 503.35 L195.65 506.40 Q191.90 507.75 188.15 506.40 Z" fill="#050505" fill-opacity="0.95" filter="url(#bl)"/>
<path d="M196.25 503.35 Q200.00 504.15 203.75 503.35 L203.75 506.40 Q200.00 507.75 196.25 506.40 Z" fill="#050505" fill-opacity="0.95" filter="url(#bl)"/>
<path d="M204.37 503.35 Q208.12 504.15 211.87 503.35 L211.87 506.40 Q208.12 507.75 204.37 506.40 Z" fill="#050505" fill-opacity="0.95" filter="url(#bl)"/>
<path d="M212.47 503.35 Q216.22 504.15 219.97 503.35 L219.97 506.40 Q216.22 507.75 212.47 506.40 Z" fill="#050505" fill-opacity="0.95" filter="url(#bl)"/>
<path d="M220.59 503.35 Q224.34 504.15 228.09 503.35 L228.09 506.40 Q224.34 507.75 220.59 506.40 Z" fill="#050505" fill-opacity="0.95" filter="url(#bl)"/>
<path d="M228.69 503.35 Q232.44 504.15 236.19 503.35 L236.19 506.40 Q232.44 507.75 228.69 506.40 Z" fill="#050505" fill-opacity="0.95" filter="url(#bl)"/>
<line x1="195.60" y1="473.10" x2="195.60" y2="484.20" stroke="#555" stroke-width="0.9"/>
<rect x="241.50" y="473.10" width="86.00" height="11.10" fill="#c9c9c9"/>
<path d="M244.30 477.15 Q248.05 477.95 251.80 477.15 L251.80 479.80 Q248.05 481.15 244.30 479.80 Z" fill="#050505" fill-opacity="0.95" filter="url(#bl)"/>
<path d="M252.40 477.15 Q256.15 477.95 259.90 477.15 L259.90 479.80 Q256.15 481.15 252.40 479.80 Z" fill="#050505" fill-opacity="0.95" filter="url(#bl)"/>
<path d="M260.50 477.15 Q264.25 477.95 268.00 477.15 L268.00 479.80 Q264.25 481.15 260.50 479.80 Z" fill="#050505" fill-opacity="0.95" filter="url(#bl)"/>
<path d="M268.60 477.15 Q272.35 477.95 276.10 477.15 L276.10 479.80 Q272.35 481.15 268.60 479.80 Z" fill="#050505" fill-opacity="0.95" filter="url(#bl)"/>
<path d="M276.70 477.15 Q280.45 477.95 284.20 477.15 L284.20 479.80 Q280.45 481.15 276.70 479.80 Z" fill="#050505" fill-opacity="0.95" filter="url(#bl)"/>
<path d="M284.80 477.15 Q288.55 477.95 292.30 477.15 L292.30 479.80 Q288.55 481.15 284.80 479.80 Z" fill="#050505" fill-opacity="0.95" filter="url(#bl)"/>
<path d="M292.90 477.15 Q296.65 477.95 300.40 477.15 L300.40 479.80 Q296.65 481.15 292.90 479.80 Z" fill="#050505" fill-opacity="0.95" filter="url(#bl)"/>
<path d="M301.00 477.15 Q304.75 477.95 308.50 477.15 L308.50 479.80 Q304.75 481.15 301.00 479.80 Z" fill="#050505" fill-opacity="0.95" filter="url(#bl)"/>
<path d="M309.10 477.15 Q312.85 477.95 316.60 477.15 L316.60 479.80 Q312.85 481.15 309.10 479.80 Z" fill="#050505" fill-opacity="0.95" filter="url(#bl)"/>
<path d="M317.20 477.15 Q320.95 477.95 324.70 477.15 L324.70 479.80 Q320.95 481.15 317.20 479.80 Z" fill="#050505" fill-opacity="0.95" filter="url(#bl)"/>
<rect x="241.50" y="486.60" width="86.00" height="11.20" fill="#c9c9c9"/>
<path d="M244.30 490.25 Q248.05 491.05 251.80 490.25 L251.80 492.90 Q248.05 494.25 244.30 492.90 Z" fill="#050505" fill-opacity="0.90" filter="url(#bl)"/>
<path d="M252.40 490.25 Q256.15 491.05 259.90 490.25 L259.90 492.90 Q256.15 494.25 252.40 492.90 Z" fill="#050505" fill-opacity="0.90" filter="url(#bl)"/>
<path d="M260.50 490.25 Q264.25 491.05 268.00 490.25 L268.00 492.90 Q264.25 494.25 260.50 492.90 Z" fill="#050505" fill-opacity="0.90" filter="url(#bl)"/>
<path d="M268.60 490.25 Q272.35 491.05 276.10 490.25 L276.10 492.90 Q272.35 494.25 268.60 492.90 Z" fill="#050505" fill-opacity="0.90" filter="url(#bl)"/>
<path d="M276.70 490.25 Q280.45 491.05 284.20 490.25 L284.20 492.90 Q280.45 494.25 276.70 492.90 Z" fill="#050505" fill-opacity="0.90" filter="url(#bl)"/>
<path d="M284.80 490.25 Q288.55 491.05 292.30 490.25 L292.30 492.90 Q288.55 494.25 284.80 492.90 Z" fill="#050505" fill-opacity="0.50" filter="url(#bl)"/>
<path d="M292.90 490.25 Q296.65 491.05 300.40 490.25 L300.40 492.90 Q296.65 494.25 292.90 492.90 Z" fill="#050505" fill-opacity="0.70" filter="url(#bl)"/>
<path d="M301.00 490.25 Q304.75 491.05 308.50 490.25 L308.50 492.90 Q304.75 494.25 301.00 492.90 Z" fill="#050505" fill-opacity="0.70" filter="url(#bl)"/>
<path d="M309.10 490.25 Q312.85 491.05 316.60 490.25 L316.60 492.90 Q312.85 494.25 309.10 492.90 Z" fill="#050505" fill-opacity="0.70" filter="url(#bl)"/>
<path d="M317.20 490.25 Q320.95 491.05 324.70 490.25 L324.70 492.90 Q320.95 494.25 317.20 492.90 Z" fill="#050505" fill-opacity="0.80" filter="url(#bl)"/>
<rect x="241.50" y="499.90" width="86.00" height="10.90" fill="#c6c6c6"/>
<path d="M244.30 503.35 Q248.05 504.15 251.80 503.35 L251.80 506.40 Q248.05 507.75 244.30 506.40 Z" fill="#050505" fill-opacity="0.95" filter="url(#bl)"/>
<path d="M252.40 503.35 Q256.15 504.15 259.90 503.35 L259.90 506.40 Q256.15 507.75 252.40 506.40 Z" fill="#050505" fill-opacity="0.95" filter="url(#bl)"/>
<path d="M260.50 503.35 Q264.25 504.15 268.00 503.35 L268.00 506.40 Q264.25 507.75 260.50 506.40 Z" fill="#050505" fill-opacity="0.95" filter="url(#bl)"/>
<path d="M268.60 503.35 Q272.35 504.15 276.10 503.35 L276.10 506.40 Q272.35 507.75 268.60 506.40 Z" fill="#050505" fill-opacity="0.95" filter="url(#bl)"/>
<path d="M276.70 503.35 Q280.45 504.15 284.20 503.35 L284.20 506.40 Q280.45 507.75 276.70 506.40 Z" fill="#050505" fill-opacity="0.95" filter="url(#bl)"/>
<path d="M284.80 503.35 Q288.55 504.15 292.30 503.35 L292.30 506.40 Q288.55 507.75 284.80 506.40 Z" fill="#050505" fill-opacity="0.95" filter="url(#bl)"/>
<path d="M292.90 503.35 Q296.65 504.15 300.40 503.35 L300.40 506.40 Q296.65 507.75 292.90 506.40 Z" fill="#050505" fill-opacity="0.95" filter="url(#bl)"/>
<path d="M301.00 503.35 Q304.75 504.15 308.50 503.35 L308.50 506.40 Q304.75 507.75 301.00 506.40 Z" fill="#050505" fill-opacity="0.95" filter="url(#bl)"/>
<path d="M309.10 503.35 Q312.85 504.15 316.60 503.35 L316.60 506.40 Q312.85 507.75 309.10 506.40 Z" fill="#050505" fill-opacity="0.95" filter="url(#bl)"/>
<path d="M317.20 503.35 Q320.95 504.15 324.70 503.35 L324.70 506.40 Q320.95 507.75 317.20 506.40 Z" fill="#050505" fill-opacity="0.95" filter="url(#bl)"/>
<rect x="331.70" y="473.10" width="87.50" height="11.10" fill="#cdcdcd"/>
<path d="M334.57 477.15 Q338.32 477.95 342.07 477.15 L342.07 479.80 Q338.32 481.15 334.57 479.80 Z" fill="#050505" fill-opacity="0.95" filter="url(#bl)"/>
<path d="M342.82 477.15 Q346.57 477.95 350.32 477.15 L350.32 479.80 Q346.57 481.15 342.82 479.80 Z" fill="#050505" fill-opacity="0.95" filter="url(#bl)"/>
<path d="M351.07 477.15 Q354.82 477.95 358.57 477.15 L358.57 479.80 Q354.82 481.15 351.07 479.80 Z" fill="#050505" fill-opacity="0.95" filter="url(#bl)"/>
<path d="M359.32 477.15 Q363.07 477.95 366.82 477.15 L366.82 479.80 Q363.07 481.15 359.32 479.80 Z" fill="#050505" fill-opacity="0.95" filter="url(#bl)"/>
<path d="M367.57 477.15 Q371.32 477.95 375.07 477.15 L375.07 479.80 Q371.32 481.15 367.57 479.80 Z" fill="#050505" fill-opacity="0.95" filter="url(#bl)"/>
<path d="M375.82 477.15 Q379.57 477.95 383.32 477.15 L383.32 479.80 Q379.57 481.15 375.82 479.80 Z" fill="#050505" fill-opacity="0.75" filter="url(#bl)"/>
<path d="M384.07 477.15 Q387.82 477.95 391.57 477.15 L391.57 479.80 Q387.82 481.15 384.07 479.80 Z" fill="#050505" fill-opacity="0.65" filter="url(#bl)"/>
<path d="M392.32 477.15 Q396.07 477.95 399.82 477.15 L399.82 479.80 Q396.07 481.15 392.32 479.80 Z" fill="#050505" fill-opacity="0.45" filter="url(#bl)"/>
<path d="M400.57 477.15 Q404.32 477.95 408.07 477.15 L408.07 479.80 Q404.32 481.15 400.57 479.80 Z" fill="#050505" fill-opacity="0.45" filter="url(#bl)"/>
<path d="M408.82 477.15 Q412.57 477.95 416.32 477.15 L416.32 479.80 Q412.57 481.15 408.82 479.80 Z" fill="#050505" fill-opacity="0.55" filter="url(#bl)"/>
<rect x="331.70" y="486.60" width="87.50" height="11.20" fill="#cdcdcd"/>
<path d="M334.57 490.25 Q338.32 491.05 342.07 490.25 L342.07 492.90 Q338.32 494.25 334.57 492.90 Z" fill="#050505" fill-opacity="0.85" filter="url(#bl)"/>
<path d="M342.82 490.25 Q346.57 491.05 350.32 490.25 L350.32 492.90 Q346.57 494.25 342.82 492.90 Z" fill="#050505" fill-opacity="0.85" filter="url(#bl)"/>
<path d="M351.07 490.25 Q354.82 491.05 358.57 490.25 L358.57 492.90 Q354.82 494.25 351.07 492.90 Z" fill="#050505" fill-opacity="0.85" filter="url(#bl)"/>
<path d="M359.32 490.25 Q363.07 491.05 366.82 490.25 L366.82 492.90 Q363.07 494.25 359.32 492.90 Z" fill="#050505" fill-opacity="0.85" filter="url(#bl)"/>
<path d="M367.57 490.25 Q371.32 491.05 375.07 490.25 L375.07 492.90 Q371.32 494.25 367.57 492.90 Z" fill="#050505" fill-opacity="0.85" filter="url(#bl)"/>
<path d="M375.82 490.25 Q379.57 491.05 383.32 490.25 L383.32 492.90 Q379.57 494.25 375.82 492.90 Z" fill="#050505" fill-opacity="0.95" filter="url(#bl)"/>
<path d="M384.07 490.25 Q387.82 491.05 391.57 490.25 L391.57 492.90 Q387.82 494.25 384.07 492.90 Z" fill="#050505" fill-opacity="0.95" filter="url(#bl)"/>
<path d="M392.32 490.25 Q396.07 491.05 399.82 490.25 L399.82 492.90 Q396.07 494.25 392.32 492.90 Z" fill="#050505" fill-opacity="0.95" filter="url(#bl)"/>
<path d="M400.57 490.25 Q404.32 491.05 408.07 490.25 L408.07 492.90 Q404.32 494.25 400.57 492.90 Z" fill="#050505" fill-opacity="0.95" filter="url(#bl)"/>
<path d="M408.82 490.25 Q412.57 491.05 416.32 490.25 L416.32 492.90 Q412.57 494.25 408.82 492.90 Z" fill="#050505" fill-opacity="0.95" filter="url(#bl)"/>
<rect x="331.70" y="499.90" width="87.50" height="10.90" fill="#cbcbcb"/>
<path d="M334.57 503.35 Q338.32 504.15 342.07 503.35 L342.07 506.40 Q338.32 507.75 334.57 506.40 Z" fill="#050505" fill-opacity="0.95" filter="url(#bl)"/>
<path d="M342.82 503.35 Q346.57 504.15 350.32 503.35 L350.32 506.40 Q346.57 507.75 342.82 506.40 Z" fill="#050505" fill-opacity="0.95" filter="url(#bl)"/>
<path d="M351.07 503.35 Q354.82 504.15 358.57 503.35 L358.57 506.40 Q354.82 507.75 351.07 506.40 Z" fill="#050505" fill-opacity="0.95" filter="url(#bl)"/>
<path d="M359.32 503.35 Q363.07 504.15 366.82 503.35 L366.82 506.40 Q363.07 507.75 359.32 506.40 Z" fill="#050505" fill-opacity="0.95" filter="url(#bl)"/>
<path d="M367.57 503.35 Q371.32 504.15 375.07 503.35 L375.07 506.40 Q371.32 507.75 367.57 506.40 Z" fill="#050505" fill-opacity="0.95" filter="url(#bl)"/>
<path d="M375.82 503.35 Q379.57 504.15 383.32 503.35 L383.32 506.40 Q379.57 507.75 375.82 506.40 Z" fill="#050505" fill-opacity="0.95" filter="url(#bl)"/>
<path d="M384.07 503.35 Q387.82 504.15 391.57 503.35 L391.57 506.40 Q387.82 507.75 384.07 506.40 Z" fill="#050505" fill-opacity="0.95" filter="url(#bl)"/>
<path d="M392.32 503.35 Q396.07 504.15 399.82 503.35 L399.82 506.40 Q396.07 507.75 392.32 506.40 Z" fill="#050505" fill-opacity="0.95" filter="url(#bl)"/>
<path d="M400.57 503.35 Q404.32 504.15 408.07 503.35 L408.07 506.40 Q404.32 507.75 400.57 506.40 Z" fill="#050505" fill-opacity="0.95" filter="url(#bl)"/>
<path d="M408.82 503.35 Q412.57 504.15 416.32 503.35 L416.32 506.40 Q412.57 507.75 408.82 506.40 Z" fill="#050505" fill-opacity="0.95" filter="url(#bl)"/>
<line x1="375.40" y1="473.10" x2="375.40" y2="510.80" stroke="#555" stroke-width="0.9"/>
<rect x="421.00" y="473.10" width="86.50" height="11.10" fill="#cdcdcd"/>
<path d="M423.82 477.15 Q427.57 477.95 431.32 477.15 L431.32 479.80 Q427.57 481.15 423.82 479.80 Z" fill="#050505" fill-opacity="0.90" filter="url(#bl)"/>
<path d="M431.98 477.15 Q435.73 477.95 439.48 477.15 L439.48 479.80 Q435.73 481.15 431.98 479.80 Z" fill="#050505" fill-opacity="0.90" filter="url(#bl)"/>
<path d="M440.12 477.15 Q443.88 477.95 447.62 477.15 L447.62 479.80 Q443.88 481.15 440.12 479.80 Z" fill="#050505" fill-opacity="0.90" filter="url(#bl)"/>
<path d="M448.27 477.15 Q452.02 477.95 455.77 477.15 L455.77 479.80 Q452.02 481.15 448.27 479.80 Z" fill="#050505" fill-opacity="0.90" filter="url(#bl)"/>
<path d="M456.43 477.15 Q460.18 477.95 463.93 477.15 L463.93 479.80 Q460.18 481.15 456.43 479.80 Z" fill="#050505" fill-opacity="0.90" filter="url(#bl)"/>
<path d="M464.57 477.15 Q468.32 477.95 472.07 477.15 L472.07 479.80 Q468.32 481.15 464.57 479.80 Z" fill="#050505" fill-opacity="0.80" filter="url(#bl)"/>
<path d="M472.73 477.15 Q476.48 477.95 480.23 477.15 L480.23 479.80 Q476.48 481.15 472.73 479.80 Z" fill="#050505" fill-opacity="0.60" filter="url(#bl)"/>
<path d="M480.88 477.15 Q484.62 477.95 488.38 477.15 L488.38 479.80 Q484.62 481.15 480.88 479.80 Z" fill="#050505" fill-opacity="0.75" filter="url(#bl)"/>
<path d="M489.02 477.15 Q492.77 477.95 496.52 477.15 L496.52 479.80 Q492.77 481.15 489.02 479.80 Z" fill="#050505" fill-opacity="0.50" filter="url(#bl)"/>
<path d="M497.18 477.15 Q500.93 477.95 504.68 477.15 L504.68 479.80 Q500.93 481.15 497.18 479.80 Z" fill="#050505" fill-opacity="0.70" filter="url(#bl)"/>
<rect x="421.00" y="486.60" width="86.50" height="11.20" fill="#cdcdcd"/>
<path d="M423.82 490.25 Q427.57 491.05 431.32 490.25 L431.32 492.90 Q427.57 494.25 423.82 492.90 Z" fill="#050505" fill-opacity="0.95" filter="url(#bl)"/>
<path d="M431.98 490.25 Q435.73 491.05 439.48 490.25 L439.48 492.90 Q435.73 494.25 431.98 492.90 Z" fill="#050505" fill-opacity="0.95" filter="url(#bl)"/>
<path d="M440.12 490.25 Q443.88 491.05 447.62 490.25 L447.62 492.90 Q443.88 494.25 440.12 492.90 Z" fill="#050505" fill-opacity="0.95" filter="url(#bl)"/>
<path d="M448.27 490.25 Q452.02 491.05 455.77 490.25 L455.77 492.90 Q452.02 494.25 448.27 492.90 Z" fill="#050505" fill-opacity="0.95" filter="url(#bl)"/>
<path d="M456.43 490.25 Q460.18 491.05 463.93 490.25 L463.93 492.90 Q460.18 494.25 456.43 492.90 Z" fill="#050505" fill-opacity="0.95" filter="url(#bl)"/>
<path d="M464.57 490.25 Q468.32 491.05 472.07 490.25 L472.07 492.90 Q468.32 494.25 464.57 492.90 Z" fill="#050505" fill-opacity="0.80" filter="url(#bl)"/>
<path d="M472.73 490.25 Q476.48 491.05 480.23 490.25 L480.23 492.90 Q476.48 494.25 472.73 492.90 Z" fill="#050505" fill-opacity="0.80" filter="url(#bl)"/>
<path d="M480.88 490.25 Q484.62 491.05 488.38 490.25 L488.38 492.90 Q484.62 494.25 480.88 492.90 Z" fill="#050505" fill-opacity="0.80" filter="url(#bl)"/>
<path d="M489.02 490.25 Q492.77 491.05 496.52 490.25 L496.52 492.90 Q492.77 494.25 489.02 492.90 Z" fill="#050505" fill-opacity="0.80" filter="url(#bl)"/>
<path d="M497.18 490.25 Q500.93 491.05 504.68 490.25 L504.68 492.90 Q500.93 494.25 497.18 492.90 Z" fill="#050505" fill-opacity="0.80" filter="url(#bl)"/>
<rect x="421.00" y="499.90" width="86.50" height="10.90" fill="#cdcdcd"/>
<path d="M423.82 503.35 Q427.57 504.15 431.32 503.35 L431.32 506.40 Q427.57 507.75 423.82 506.40 Z" fill="#050505" fill-opacity="0.95" filter="url(#bl)"/>
<path d="M431.98 503.35 Q435.73 504.15 439.48 503.35 L439.48 506.40 Q435.73 507.75 431.98 506.40 Z" fill="#050505" fill-opacity="0.95" filter="url(#bl)"/>
<path d="M440.12 503.35 Q443.88 504.15 447.62 503.35 L447.62 506.40 Q443.88 507.75 440.12 506.40 Z" fill="#050505" fill-opacity="0.95" filter="url(#bl)"/>
<path d="M448.27 503.35 Q452.02 504.15 455.77 503.35 L455.77 506.40 Q452.02 507.75 448.27 506.40 Z" fill="#050505" fill-opacity="0.95" filter="url(#bl)"/>
<path d="M456.43 503.35 Q460.18 504.15 463.93 503.35 L463.93 506.40 Q460.18 507.75 456.43 506.40 Z" fill="#050505" fill-opacity="0.95" filter="url(#bl)"/>
<path d="M464.57 503.35 Q468.32 504.15 472.07 503.35 L472.07 506.40 Q468.32 507.75 464.57 506.40 Z" fill="#050505" fill-opacity="0.95" filter="url(#bl)"/>
<path d="M472.73 503.35 Q476.48 504.15 480.23 503.35 L480.23 506.40 Q476.48 507.75 472.73 506.40 Z" fill="#050505" fill-opacity="0.95" filter="url(#bl)"/>
<path d="M480.88 503.35 Q484.62 504.15 488.38 503.35 L488.38 506.40 Q484.62 507.75 480.88 506.40 Z" fill="#050505" fill-opacity="0.95" filter="url(#bl)"/>
<path d="M489.02 503.35 Q492.77 504.15 496.52 503.35 L496.52 506.40 Q492.77 507.75 489.02 506.40 Z" fill="#050505" fill-opacity="0.95" filter="url(#bl)"/>
<path d="M497.18 503.35 Q500.93 504.15 504.68 503.35 L504.68 506.40 Q500.93 507.75 497.18 506.40 Z" fill="#050505" fill-opacity="0.95" filter="url(#bl)"/>
<line x1="464.20" y1="473.10" x2="464.20" y2="510.80" stroke="#555" stroke-width="0.9"/>
<rect x="196.20" y="513.30" width="42.80" height="10.50" fill="#cdcdcd"/>
<path d="M199.08 517.10 Q202.48 517.90 205.88 517.10 L205.88 519.45 Q202.48 520.80 199.08 519.45 Z" fill="#050505" fill-opacity="0.80" filter="url(#bl)"/>
<path d="M206.64 517.10 Q210.04 517.90 213.44 517.10 L213.44 519.45 Q210.04 520.80 206.64 519.45 Z" fill="#050505" fill-opacity="0.40" filter="url(#bl)"/>
<path d="M214.20 517.10 Q217.60 517.90 221.00 517.10 L221.00 519.45 Q217.60 520.80 214.20 519.45 Z" fill="#050505" fill-opacity="0.75" filter="url(#bl)"/>
<path d="M221.76 517.10 Q225.16 517.90 228.56 517.10 L228.56 519.45 Q225.16 520.80 221.76 519.45 Z" fill="#050505" fill-opacity="0.30" filter="url(#bl)"/>
<path d="M229.32 517.10 Q232.72 517.90 236.12 517.10 L236.12 519.45 Q232.72 520.80 229.32 519.45 Z" fill="#050505" fill-opacity="0.30" filter="url(#bl)"/>
<line x1="330.20" y1="61.60" x2="330.20" y2="510.00" stroke="#111" stroke-width="1.5" stroke-dasharray="1.5 1.75"/>
<rect x="61.50" y="535.20" width="11.60" height="5.20" fill="#000000"/>
<text x="75.90" y="540.50" font-size="7.9" text-anchor="start" fill="#111" stroke="#111" stroke-width="0.1" textLength="21.40" lengthAdjust="spacingAndGlyphs">DMSO</text>
<rect x="109.60" y="535.20" width="11.50" height="5.20" fill="#8F97BD"/>
<text x="123.40" y="540.50" font-size="7.9" text-anchor="start" fill="#111" stroke="#111" stroke-width="0.1" textLength="75.40" lengthAdjust="spacingAndGlyphs">ENTOSPLETINIB [2 µM]</text>
<rect x="218.80" y="535.20" width="11.40" height="5.20" fill="#55699B"/>
<text x="232.70" y="540.50" font-size="7.9" text-anchor="start" fill="#111" stroke="#111" stroke-width="0.1" textLength="61.60" lengthAdjust="spacingAndGlyphs">IBRUTINIB [0.1 µM]</text>
<rect x="311.90" y="535.20" width="10.10" height="5.20" fill="#A50026"/>
<text x="325.40" y="540.50" font-size="7.9" text-anchor="start" fill="#111" stroke="#111" stroke-width="0.1" textLength="73.30" lengthAdjust="spacingAndGlyphs">COPANLISIB [0.25 µM]</text>
<rect x="417.80" y="535.20" width="10.20" height="5.20" fill="#CA887A"/>
<text x="431.40" y="540.50" font-size="7.9" text-anchor="start" fill="#111" stroke="#111" stroke-width="0.1" textLength="61.40" lengthAdjust="spacingAndGlyphs">PICTILISIB [0.5 µM]</text>
<rect x="0.00" y="0.00" width="520.00" height="1.10" fill="#111"/>
<rect x="0.00" y="0.00" width="1.15" height="553.00" fill="#111"/>
<rect x="518.70" y="0.00" width="1.30" height="553.00" fill="#111"/>
<rect x="0.00" y="551.30" width="520.00" height="1.70" fill="#111"/>
</svg></body></html>
